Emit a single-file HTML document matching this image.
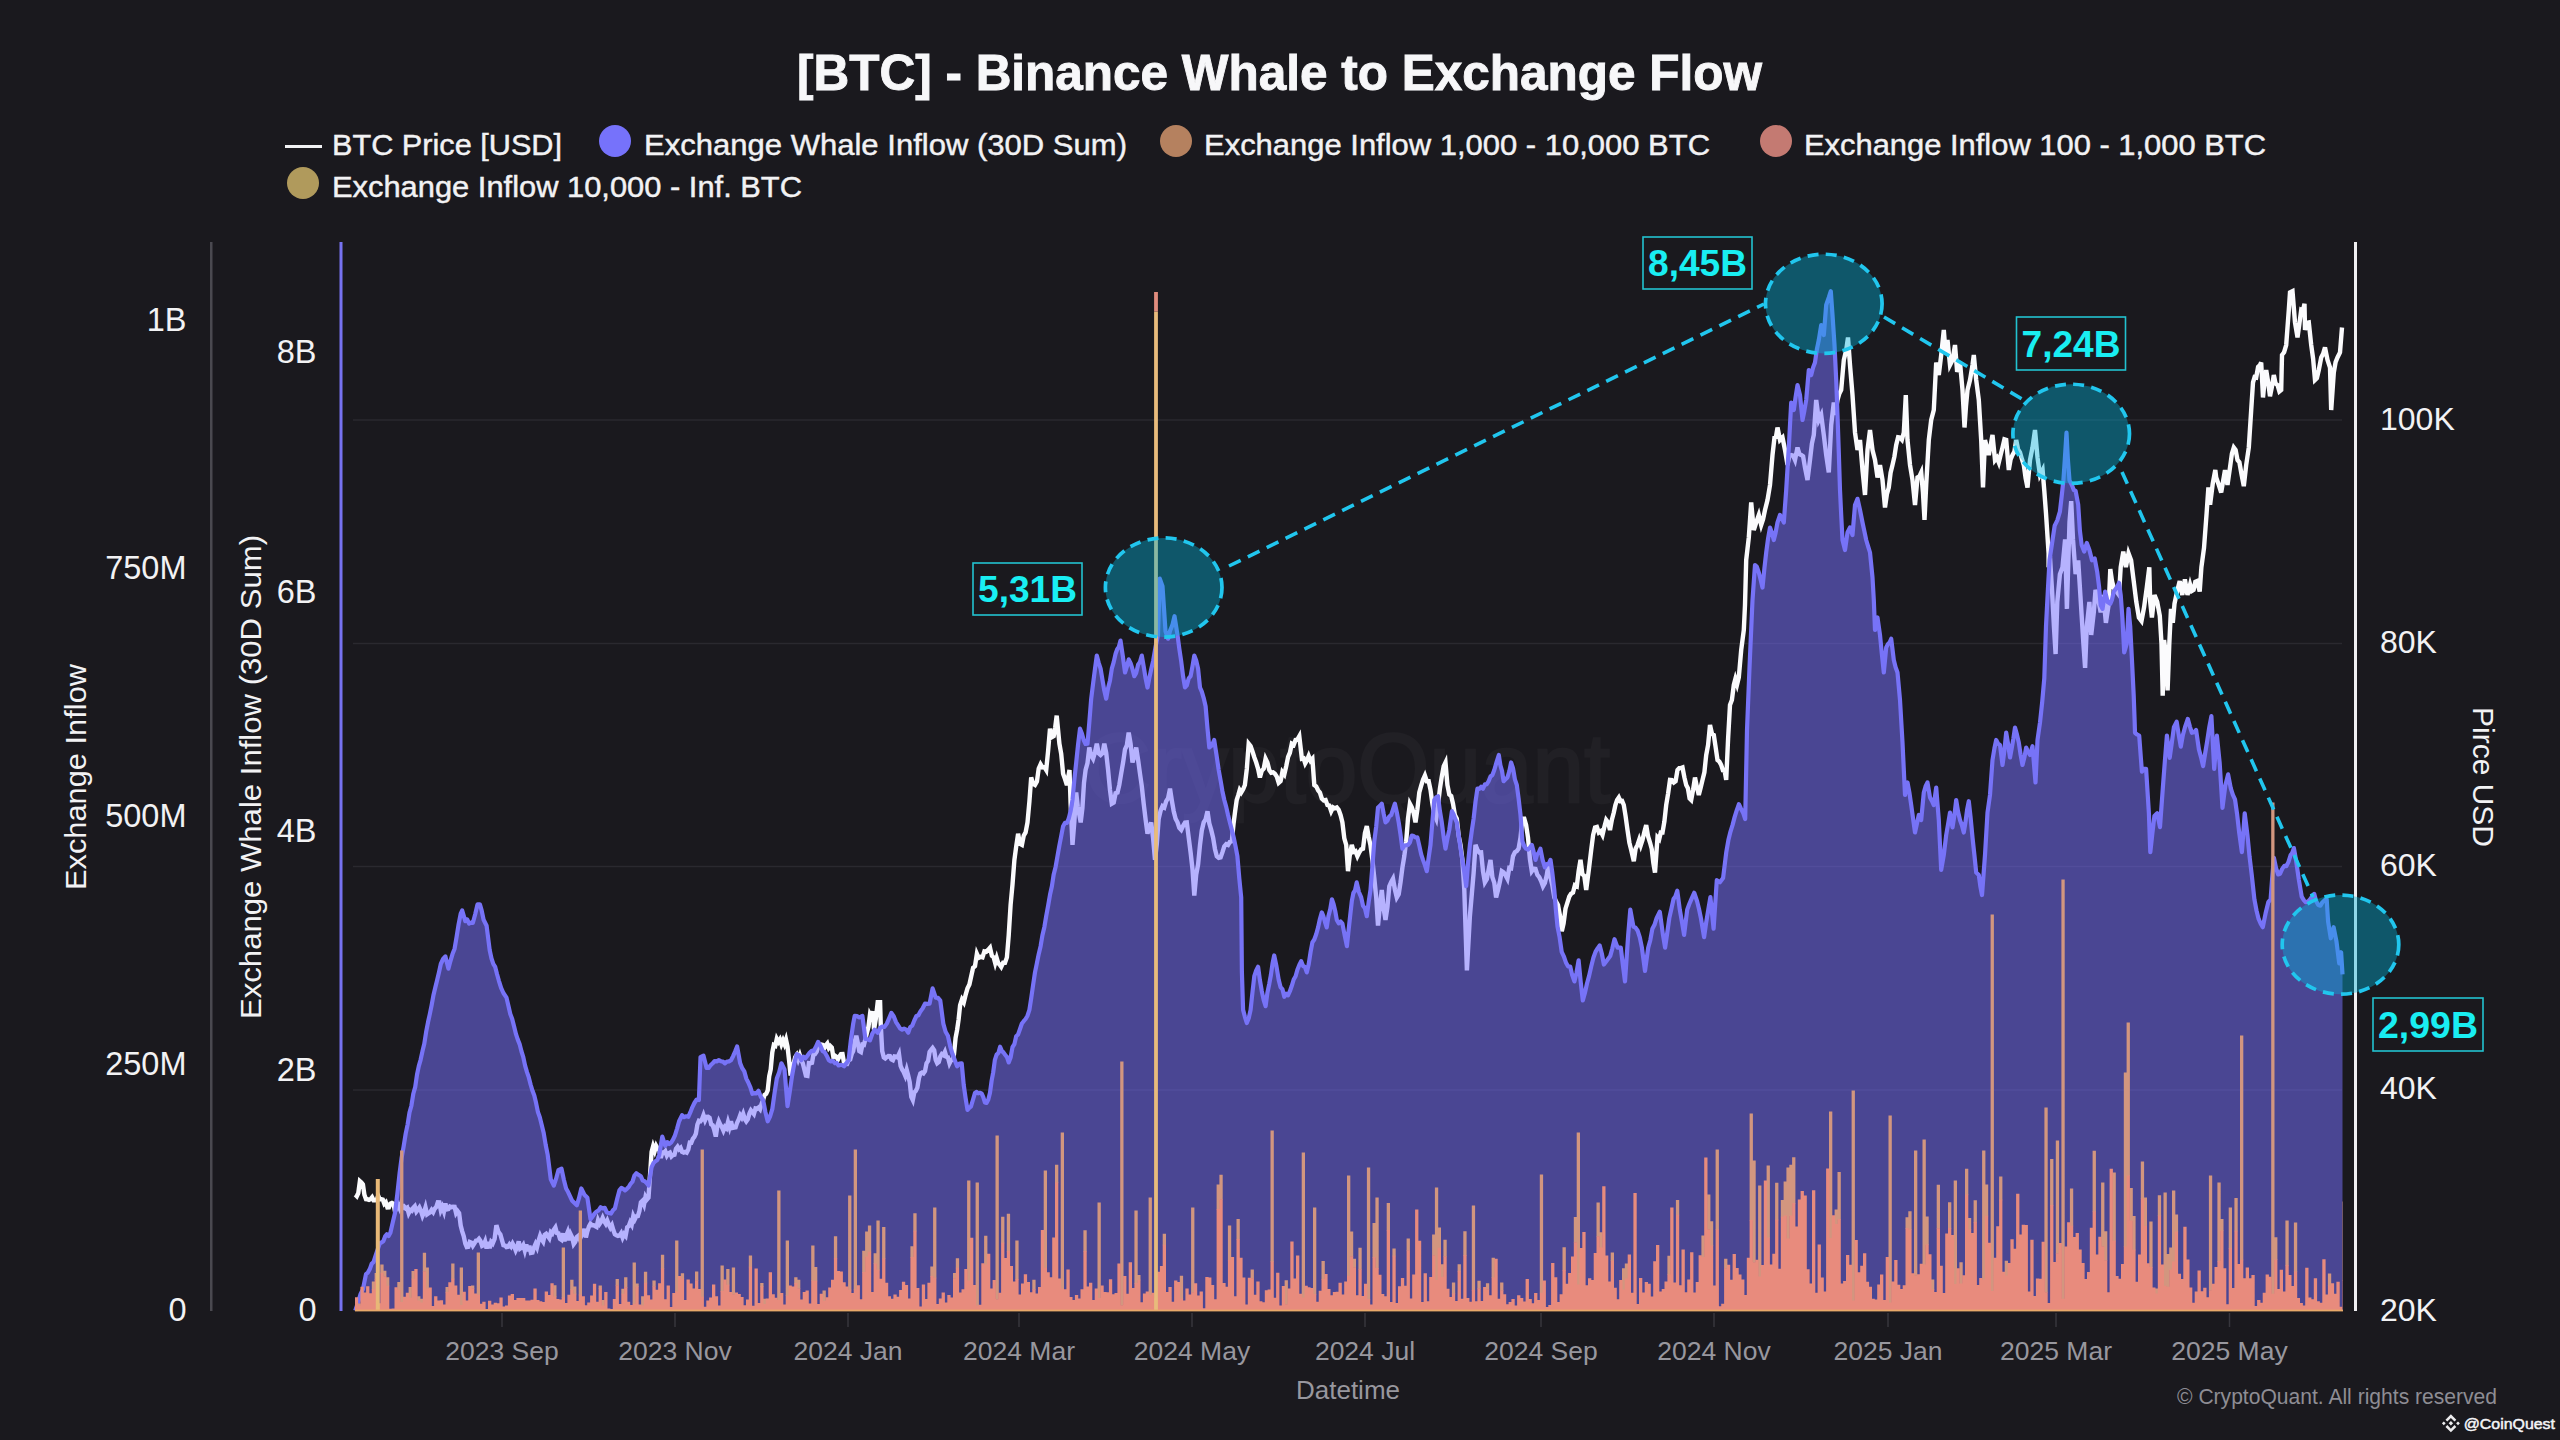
<!DOCTYPE html>
<html><head><meta charset="utf-8"><title>BTC Binance Whale to Exchange Flow</title>
<style>html,body{margin:0;padding:0;background:#1a191e;width:2560px;height:1440px;overflow:hidden}svg{display:block}</style></head>
<body>
<svg width="2560" height="1440" viewBox="0 0 2560 1440" font-family="Liberation Sans, sans-serif">
<rect width="2560" height="1440" fill="#1a191e"/>
<text x="1279.5" y="90" text-anchor="middle" font-size="49.5" font-weight="bold" fill="#f7f7f9" stroke="#f7f7f9" stroke-width="0.9" textLength="965" lengthAdjust="spacingAndGlyphs">[BTC] - Binance Whale to Exchange Flow</text>
<rect x="285" y="145" width="37" height="3" fill="#f2f2f4"/>
<text x="332" y="155" font-size="30" fill="#f2f2f4" stroke="#f2f2f4" stroke-width="0.45" textLength="230" lengthAdjust="spacingAndGlyphs">BTC Price [USD]</text>
<circle cx="615" cy="141" r="16" fill="#7672fb"/>
<text x="644" y="155" font-size="30" fill="#f2f2f4" stroke="#f2f2f4" stroke-width="0.45" textLength="483" lengthAdjust="spacingAndGlyphs">Exchange Whale Inflow (30D Sum)</text>
<circle cx="1176" cy="141" r="16" fill="#b5815f"/>
<text x="1204" y="155" font-size="30" fill="#f2f2f4" stroke="#f2f2f4" stroke-width="0.45" textLength="506" lengthAdjust="spacingAndGlyphs">Exchange Inflow 1,000 - 10,000 BTC</text>
<circle cx="1776" cy="141" r="16" fill="#c47a72"/>
<text x="1804" y="155" font-size="30" fill="#f2f2f4" stroke="#f2f2f4" stroke-width="0.45" textLength="462" lengthAdjust="spacingAndGlyphs">Exchange Inflow 100 - 1,000 BTC</text>
<circle cx="303" cy="183" r="16" fill="#b09a5c"/>
<text x="332" y="196.5" font-size="30" fill="#f2f2f4" stroke="#f2f2f4" stroke-width="0.45" textLength="470" lengthAdjust="spacingAndGlyphs">Exchange Inflow 10,000 - Inf. BTC</text>
<rect x="353" y="419.25" width="1989" height="1.5" fill="#2a292f"/>
<rect x="353" y="642.75" width="1989" height="1.5" fill="#2a292f"/>
<rect x="353" y="865.75" width="1989" height="1.5" fill="#2a292f"/>
<rect x="353" y="1089.25" width="1989" height="1.5" fill="#2a292f"/>
<g opacity="0.026"><text x="1347" y="802" text-anchor="middle" font-size="98" fill="#ffffff" stroke="#ffffff" stroke-width="2.5" textLength="526" lengthAdjust="spacingAndGlyphs">CryptoQuant</text></g>
<path d="M355.3,1194.7 L356.8,1196.2 L358.3,1193.0 L359.9,1181.1 L361.4,1182.4 L362.9,1184.4 L364.4,1194.7 L366.0,1199.2 L367.5,1199.3 L369.0,1199.8 L370.5,1199.2 L372.1,1197.3 L373.6,1200.3 L375.1,1200.3 L376.7,1200.0 L378.2,1195.8 L379.7,1199.2 L381.2,1199.3 L382.8,1199.7 L384.3,1203.8 L385.8,1202.3 L387.4,1207.5 L388.9,1207.4 L390.4,1203.6 L391.9,1203.0 L393.5,1203.8 L395.0,1211.5 L396.5,1208.1 L398.0,1204.8 L399.6,1208.4 L401.1,1203.7 L402.6,1208.0 L404.2,1206.6 L405.7,1208.4 L407.2,1207.6 L408.7,1213.2 L410.3,1210.0 L411.8,1210.8 L413.3,1207.9 L414.8,1206.3 L416.4,1211.5 L417.9,1209.6 L419.4,1207.5 L421.0,1211.1 L422.5,1215.8 L424.0,1212.4 L425.5,1207.4 L427.1,1214.3 L428.6,1213.2 L430.1,1212.4 L431.6,1209.9 L433.2,1212.1 L434.7,1208.7 L436.2,1207.1 L437.8,1202.3 L439.3,1202.4 L440.8,1210.2 L442.3,1206.9 L443.9,1211.5 L445.4,1203.5 L446.9,1209.4 L448.4,1209.0 L450.0,1206.5 L451.5,1207.2 L453.0,1206.8 L454.6,1206.9 L456.1,1213.2 L457.6,1211.0 L459.1,1213.0 L460.7,1225.5 L462.2,1231.3 L463.7,1236.0 L465.3,1243.5 L466.8,1247.0 L468.3,1246.8 L469.8,1242.0 L471.4,1242.7 L472.9,1245.8 L474.4,1243.5 L475.9,1240.7 L477.5,1240.5 L479.0,1238.8 L480.5,1241.0 L482.1,1245.9 L483.6,1245.1 L485.1,1241.5 L486.6,1248.6 L488.2,1242.0 L489.7,1248.2 L491.2,1241.9 L492.7,1243.5 L494.6,1238.9 L496.4,1225.2 L498.4,1231.8 L500.4,1234.4 L501.9,1239.8 L503.4,1245.1 L505.0,1245.5 L506.5,1247.2 L508.0,1246.9 L509.5,1244.4 L511.1,1246.6 L512.6,1243.5 L514.1,1246.3 L515.7,1250.4 L517.2,1247.1 L518.7,1241.4 L520.2,1248.6 L521.8,1247.5 L523.3,1245.1 L524.8,1250.4 L526.3,1244.5 L527.9,1251.3 L529.4,1245.7 L530.9,1253.0 L532.5,1252.7 L534.0,1247.4 L535.5,1243.9 L537.0,1247.3 L538.6,1240.5 L540.1,1235.8 L541.6,1239.2 L543.2,1241.7 L544.7,1234.9 L546.2,1233.8 L547.7,1235.9 L549.3,1238.2 L550.8,1232.1 L552.3,1233.5 L553.8,1229.8 L555.4,1227.4 L556.9,1233.0 L558.4,1233.4 L560.0,1238.9 L561.5,1239.9 L563.0,1233.3 L564.5,1241.2 L566.1,1235.9 L567.6,1232.2 L569.1,1240.2 L570.6,1234.2 L572.2,1237.5 L573.7,1244.1 L575.2,1242.0 L576.8,1237.0 L578.3,1235.8 L579.8,1239.3 L581.3,1235.9 L582.9,1233.6 L584.4,1229.0 L585.9,1237.4 L587.4,1231.3 L589.0,1226.3 L590.5,1223.6 L592.0,1225.2 L593.6,1225.2 L595.1,1226.0 L596.6,1226.9 L598.1,1220.2 L599.7,1223.7 L601.2,1221.4 L602.7,1217.8 L604.2,1221.3 L605.8,1223.9 L607.3,1220.6 L608.8,1224.5 L610.4,1227.7 L611.9,1225.2 L613.4,1230.4 L614.9,1234.2 L616.5,1235.3 L618.0,1235.9 L619.5,1235.6 L621.1,1233.2 L622.6,1237.5 L624.1,1234.1 L625.6,1235.9 L627.2,1227.3 L628.7,1226.2 L630.2,1222.1 L631.7,1224.7 L633.3,1216.0 L634.8,1219.3 L636.3,1216.2 L637.9,1216.0 L639.4,1211.1 L640.9,1202.3 L642.4,1200.8 L644.0,1204.6 L645.5,1196.8 L647.0,1199.5 L648.5,1197.7 L650.1,1174.0 L651.6,1151.9 L653.1,1146.3 L654.7,1150.9 L656.2,1146.0 L657.7,1148.8 L659.2,1149.0 L660.8,1158.0 L662.3,1152.4 L663.8,1152.8 L665.3,1151.2 L666.9,1155.7 L668.4,1153.4 L669.9,1152.6 L671.5,1156.4 L673.0,1155.0 L674.5,1154.7 L676.0,1148.8 L677.6,1146.7 L679.1,1149.3 L680.6,1147.9 L682.1,1151.8 L683.7,1152.6 L685.2,1151.9 L686.7,1152.6 L688.3,1149.4 L689.8,1142.6 L691.3,1142.7 L692.8,1138.9 L694.4,1136.9 L695.9,1133.6 L697.4,1124.5 L698.9,1120.8 L700.5,1121.3 L702.0,1119.3 L703.5,1115.2 L705.1,1120.1 L706.6,1116.8 L708.1,1116.7 L709.6,1117.8 L711.2,1124.4 L712.7,1125.3 L714.2,1129.9 L715.8,1136.6 L717.3,1126.1 L718.8,1121.3 L720.3,1124.6 L721.9,1127.1 L723.4,1130.5 L724.9,1126.8 L726.4,1128.3 L728.0,1122.1 L729.5,1127.2 L731.0,1121.3 L732.6,1128.0 L734.1,1127.7 L735.6,1127.4 L737.1,1122.7 L738.7,1119.4 L740.2,1115.2 L741.7,1117.6 L743.2,1113.8 L744.8,1119.0 L746.3,1121.3 L747.8,1119.3 L749.4,1113.6 L750.9,1110.4 L752.4,1112.2 L753.9,1114.1 L755.5,1108.5 L757.0,1108.9 L758.5,1107.6 L760.0,1109.3 L761.6,1103.6 L763.1,1100.0 L764.6,1094.8 L766.2,1093.8 L767.7,1090.5 L769.2,1076.3 L770.7,1069.4 L772.3,1052.4 L773.8,1045.0 L775.3,1045.8 L776.8,1038.9 L778.4,1041.9 L779.9,1039.5 L781.4,1044.3 L783.0,1040.4 L784.5,1044.1 L786.0,1039.6 L787.5,1046.5 L789.1,1060.5 L790.6,1075.5 L792.1,1068.5 L793.7,1063.2 L795.2,1057.2 L796.7,1055.0 L798.2,1059.6 L799.8,1055.2 L801.3,1060.2 L802.8,1063.2 L804.3,1069.2 L805.9,1075.5 L807.4,1075.8 L808.9,1063.1 L810.5,1063.3 L812.0,1062.8 L813.5,1054.1 L815.0,1054.1 L816.6,1051.8 L818.1,1046.9 L819.6,1045.0 L821.1,1044.6 L822.7,1045.0 L824.2,1048.3 L825.7,1045.4 L827.3,1043.5 L828.8,1048.0 L830.3,1046.1 L831.8,1047.6 L833.4,1057.2 L834.9,1055.7 L836.4,1056.7 L837.9,1059.5 L839.5,1056.4 L841.0,1054.1 L842.5,1054.0 L844.1,1063.3 L845.6,1063.9 L847.1,1064.0 L848.6,1060.2 L850.2,1059.4 L851.7,1054.1 L853.2,1051.1 L854.7,1042.0 L856.3,1035.8 L857.8,1043.0 L859.3,1051.1 L860.9,1052.0 L862.4,1044.7 L863.9,1045.0 L865.4,1039.1 L867.0,1032.5 L868.5,1026.6 L870.0,1014.4 L871.6,1017.4 L873.1,1011.4 L874.0,1029.7 L875.8,1019.0 L877.7,1002.2 L880.1,1002.2 L880.7,1023.6 L882.2,1051.1 L883.8,1057.4 L885.3,1058.5 L886.8,1057.2 L888.4,1055.9 L889.9,1056.0 L891.4,1059.4 L892.9,1060.2 L894.5,1056.3 L896.0,1056.5 L897.5,1057.4 L899.0,1054.1 L900.6,1066.0 L902.1,1069.4 L903.6,1071.8 L905.2,1075.6 L906.7,1069.9 L908.2,1075.5 L909.7,1082.2 L911.3,1096.8 L912.8,1100.0 L914.3,1092.3 L915.8,1091.0 L917.4,1087.7 L918.9,1078.3 L920.4,1073.4 L922.0,1072.5 L923.5,1073.4 L925.0,1071.2 L926.5,1063.3 L928.1,1061.0 L929.6,1051.9 L931.1,1049.8 L932.6,1048.0 L934.2,1050.4 L935.7,1059.9 L937.2,1063.3 L938.8,1062.0 L940.3,1056.6 L941.8,1054.1 L943.3,1055.1 L944.9,1051.8 L946.4,1056.8 L947.9,1057.2 L949.5,1063.2 L951.0,1060.2 L952.5,1059.7 L954.0,1054.1 L955.6,1037.9 L957.1,1029.9 L958.6,1019.6 L960.1,1005.3 L962.0,999.4 L963.8,1002.3 L965.6,994.9 L967.5,988.3 L969.4,984.4 L971.2,976.2 L973.1,967.7 L975.0,966.1 L976.9,953.7 L978.7,957.8 L980.6,956.9 L982.5,957.4 L984.4,951.4 L986.2,951.8 L988.1,949.9 L990.0,947.7 L991.9,955.9 L993.7,957.4 L995.2,963.1 L996.7,958.0 L998.2,963.1 L999.7,964.7 L1001.2,966.8 L1003.1,962.7 L1005.0,962.7 L1006.9,957.4 L1008.7,935.5 L1010.6,904.9 L1012.5,884.5 L1014.4,859.9 L1016.2,846.5 L1018.1,833.7 L1020.0,843.9 L1021.9,844.9 L1023.7,835.8 L1025.6,832.4 L1027.5,822.4 L1029.4,801.5 L1031.2,777.5 L1033.1,783.8 L1035.0,785.0 L1036.9,781.6 L1038.7,768.5 L1040.6,764.3 L1042.5,767.4 L1044.4,767.1 L1046.2,770.0 L1048.1,751.0 L1050.0,728.7 L1051.9,737.2 L1053.7,736.2 L1055.2,727.3 L1056.7,715.6 L1059.4,743.7 L1061.2,753.8 L1063.1,773.7 L1065.0,779.0 L1066.9,785.0 L1069.5,770.0 L1070.6,803.7 L1072.5,844.9 L1074.4,820.8 L1076.2,792.5 L1077.7,806.3 L1079.2,814.0 L1080.7,822.4 L1082.4,808.1 L1084.0,782.6 L1085.6,770.0 L1087.5,763.1 L1089.3,747.5 L1091.2,755.4 L1093.1,758.7 L1095.0,752.3 L1096.8,743.7 L1098.7,753.4 L1100.6,755.0 L1102.5,753.2 L1104.3,743.7 L1106.2,752.8 L1108.1,770.0 L1110.0,790.0 L1111.8,803.7 L1113.7,802.6 L1115.6,793.2 L1117.5,792.5 L1119.3,784.9 L1121.2,773.3 L1123.1,762.5 L1125.0,749.4 L1126.8,745.5 L1128.7,732.5 L1130.6,743.8 L1132.5,762.5 L1134.3,756.1 L1136.2,747.5 L1138.1,759.9 L1140.0,773.7 L1141.8,786.2 L1143.7,803.7 L1145.6,819.4 L1147.5,833.7 L1149.3,827.7 L1151.2,822.4 L1153.1,838.2 L1155.0,859.9 L1156.8,844.0 L1158.7,818.7 L1160.6,810.7 L1162.5,806.2 L1164.3,807.5 L1166.2,801.1 L1168.1,798.3 L1170.0,788.7 L1171.8,800.3 L1173.7,811.2 L1175.6,818.7 L1177.5,822.3 L1179.3,827.9 L1181.2,829.9 L1183.1,825.8 L1185.0,822.6 L1186.8,822.4 L1188.7,837.5 L1190.6,852.4 L1192.5,869.3 L1194.3,895.6 L1196.2,874.5 L1198.1,864.4 L1200.0,844.9 L1201.8,830.4 L1203.7,822.4 L1205.6,819.3 L1207.5,811.2 L1209.3,823.4 L1211.2,829.9 L1213.1,837.7 L1215.0,849.2 L1216.8,856.2 L1218.7,857.8 L1220.6,857.3 L1222.4,852.4 L1224.3,846.3 L1226.2,844.1 L1228.1,844.9 L1229.9,841.9 L1231.8,841.2 L1233.7,822.4 L1235.2,810.8 L1236.7,800.0 L1238.2,795.4 L1239.7,790.1 L1241.2,792.5 L1243.1,789.3 L1244.9,785.0 L1246.8,769.0 L1248.7,743.7 L1250.6,746.1 L1252.4,751.2 L1254.3,757.2 L1256.2,762.5 L1258.1,768.8 L1259.9,777.5 L1261.8,770.6 L1263.7,768.7 L1265.6,758.7 L1267.4,762.4 L1269.3,770.0 L1271.2,772.7 L1273.1,772.3 L1274.9,773.7 L1276.8,776.6 L1278.7,782.9 L1280.6,781.2 L1282.4,772.0 L1284.3,774.5 L1286.2,766.2 L1288.1,756.8 L1289.9,752.7 L1291.8,743.7 L1293.7,744.8 L1295.6,740.0 L1297.4,739.6 L1299.3,736.2 L1301.9,758.7 L1303.6,758.3 L1305.2,763.4 L1306.8,760.6 L1308.7,755.9 L1310.6,760.7 L1312.4,758.7 L1314.3,785.0 L1316.2,786.4 L1318.1,790.3 L1319.9,792.5 L1321.8,798.5 L1323.7,800.4 L1325.6,800.0 L1327.4,805.0 L1329.3,805.5 L1331.2,811.2 L1333.1,807.3 L1334.9,808.3 L1336.8,807.5 L1338.7,809.8 L1340.6,815.2 L1342.4,822.4 L1344.3,838.3 L1346.2,844.9 L1348.0,871.2 L1349.9,854.2 L1351.8,844.9 L1353.7,851.9 L1355.5,851.2 L1357.4,856.2 L1359.3,852.3 L1361.2,849.4 L1363.0,848.7 L1364.9,833.2 L1366.8,826.2 L1368.7,837.0 L1370.5,845.4 L1372.4,859.9 L1374.3,878.1 L1376.2,897.4 L1378.0,925.6 L1379.9,905.7 L1381.8,889.9 L1383.7,908.9 L1385.5,919.9 L1387.4,907.3 L1389.3,886.2 L1391.2,881.9 L1393.0,878.7 L1394.9,889.5 L1396.8,897.4 L1398.7,894.2 L1400.5,882.4 L1402.4,867.6 L1404.3,856.2 L1406.2,841.2 L1408.0,818.4 L1409.9,803.7 L1411.8,807.3 L1413.7,813.1 L1415.5,822.4 L1417.4,809.2 L1419.3,792.5 L1421.2,785.6 L1423.0,779.8 L1424.9,775.6 L1426.8,781.3 L1428.7,781.2 L1430.5,789.8 L1432.4,803.7 L1434.3,814.3 L1436.2,818.7 L1438.0,805.0 L1439.9,788.7 L1441.8,776.5 L1443.7,766.2 L1445.5,762.5 L1447.4,785.0 L1449.3,794.4 L1451.2,795.9 L1453.0,803.7 L1454.9,815.0 L1456.8,818.7 L1458.7,836.1 L1460.5,844.9 L1462.4,859.9 L1464.3,889.9 L1466.9,970.5 L1468.4,943.4 L1469.9,916.2 L1471.8,894.3 L1473.6,873.2 L1475.5,844.9 L1477.4,849.9 L1479.3,852.5 L1481.1,852.4 L1483.0,871.1 L1484.9,882.4 L1486.8,879.3 L1488.6,870.0 L1490.5,859.9 L1492.4,877.2 L1494.3,882.9 L1496.1,897.4 L1498.0,889.9 L1499.9,881.6 L1501.8,871.2 L1503.6,872.4 L1505.5,875.1 L1507.4,878.7 L1509.3,867.9 L1511.1,868.3 L1513.0,856.2 L1514.9,852.2 L1516.8,851.0 L1518.6,848.7 L1520.5,837.6 L1522.4,818.7 L1524.3,818.7 L1526.1,824.9 L1528.0,837.4 L1529.9,858.9 L1531.8,871.2 L1533.6,868.7 L1535.5,869.0 L1537.4,874.9 L1539.3,877.2 L1541.1,881.0 L1543.0,886.2 L1544.9,882.9 L1546.8,875.0 L1548.6,863.7 L1550.5,877.6 L1552.4,885.6 L1554.3,897.4 L1556.1,901.6 L1558.0,904.9 L1559.9,915.4 L1561.8,931.2 L1563.6,923.3 L1565.5,908.7 L1567.4,902.6 L1569.3,896.5 L1571.1,893.7 L1573.0,892.6 L1574.9,885.2 L1576.8,886.2 L1578.6,871.2 L1580.5,859.9 L1582.4,874.2 L1584.3,875.9 L1586.2,890.0 L1588.8,870.0 L1591.2,850.0 L1593.1,835.2 L1595.0,827.5 L1596.9,827.0 L1598.8,832.5 L1600.6,831.3 L1602.5,835.0 L1604.4,826.7 L1606.2,820.0 L1608.1,822.5 L1610.0,830.0 L1611.9,819.7 L1613.8,812.5 L1615.4,805.0 L1617.1,799.9 L1618.8,797.5 L1620.4,801.1 L1622.1,800.9 L1623.8,805.0 L1625.6,816.2 L1627.5,830.0 L1629.4,842.7 L1631.2,850.0 L1633.8,861.2 L1635.6,848.7 L1637.5,845.0 L1639.2,839.8 L1640.8,845.2 L1642.5,840.0 L1644.4,831.8 L1646.2,825.0 L1648.1,836.5 L1650.0,842.5 L1651.7,848.8 L1653.3,862.7 L1655.0,872.5 L1657.5,837.5 L1659.2,839.3 L1660.8,832.5 L1662.5,832.5 L1664.4,821.4 L1666.2,805.0 L1668.1,793.6 L1670.0,780.0 L1671.9,780.2 L1673.8,782.5 L1675.6,781.2 L1677.5,770.0 L1679.2,768.1 L1680.8,768.1 L1682.5,767.5 L1684.4,777.4 L1686.2,785.0 L1687.9,788.2 L1689.6,798.4 L1691.2,800.0 L1693.1,789.7 L1695.0,777.5 L1696.9,787.1 L1698.8,795.0 L1700.6,787.9 L1702.5,780.0 L1704.4,772.3 L1706.2,755.0 L1708.1,744.9 L1710.0,725.0 L1711.9,733.4 L1713.8,735.0 L1715.6,747.0 L1717.5,760.0 L1719.4,761.6 L1721.2,765.0 L1722.9,770.2 L1724.6,770.5 L1726.2,780.0 L1728.1,738.6 L1730.0,705.0 L1731.9,700.0 L1733.8,685.0 L1735.4,678.8 L1737.1,684.4 L1738.8,677.5 L1741.2,650.0 L1743.8,630.0 L1745.0,605.0 L1746.2,560.0 L1748.8,537.5 L1751.2,502.5 L1753.8,530.0 L1756.2,522.5 L1758.8,515.0 L1761.2,525.0 L1763.1,519.3 L1765.0,510.0 L1767.5,500.0 L1770.0,485.0 L1772.5,455.0 L1774.5,437.5 L1776.0,436.7 L1777.5,427.5 L1780.0,440.0 L1782.5,437.5 L1785.0,450.0 L1787.5,465.0 L1789.4,455.8 L1791.2,455.0 L1793.1,455.6 L1795.0,460.0 L1797.5,447.5 L1799.4,454.2 L1801.2,455.0 L1803.1,456.3 L1805.0,467.5 L1807.5,480.0 L1810.0,460.0 L1811.9,443.6 L1813.8,435.0 L1816.2,400.0 L1818.8,420.0 L1821.2,415.0 L1823.8,435.0 L1826.2,455.0 L1828.8,472.5 L1831.2,425.0 L1833.8,402.5 L1835.0,415.0 L1837.5,400.0 L1839.4,393.5 L1841.2,390.0 L1843.8,360.0 L1846.2,350.0 L1848.0,337.5 L1850.0,365.0 L1852.5,395.0 L1855.0,432.5 L1857.5,450.0 L1860.0,440.0 L1862.5,470.0 L1865.0,495.0 L1867.5,450.0 L1870.0,430.0 L1872.5,450.0 L1875.0,460.0 L1877.5,477.5 L1880.0,465.0 L1882.5,480.0 L1885.0,507.5 L1886.9,494.2 L1888.8,487.5 L1890.6,472.7 L1892.5,465.0 L1894.4,456.7 L1896.2,445.0 L1898.1,437.2 L1900.0,437.5 L1901.9,439.7 L1903.8,432.5 L1905.8,395.0 L1907.5,440.0 L1910.0,465.0 L1912.5,480.0 L1915.0,505.0 L1917.5,477.5 L1919.4,476.5 L1921.2,472.5 L1922.9,491.7 L1924.5,520.0 L1926.2,485.0 L1928.8,440.0 L1931.2,420.0 L1933.8,410.0 L1936.2,362.5 L1938.8,375.0 L1941.2,355.0 L1943.8,330.0 L1945.5,352.5 L1947.5,340.0 L1950.0,365.0 L1952.5,360.0 L1955.0,345.0 L1957.0,370.0 L1958.5,370.2 L1960.0,362.5 L1962.5,390.0 L1964.5,427.5 L1966.0,406.2 L1967.5,390.0 L1970.0,380.0 L1972.5,365.0 L1973.8,355.0 L1976.2,380.0 L1978.8,400.0 L1981.2,440.0 L1983.0,487.5 L1985.0,440.0 L1986.9,447.3 L1988.8,455.0 L1990.6,445.6 L1992.5,435.0 L1995.0,460.0 L1996.9,457.6 L1998.8,462.5 L2000.6,455.0 L2002.5,447.5 L2004.4,439.4 L2006.2,440.0 L2008.8,470.0 L2010.6,459.5 L2012.5,455.0 L2014.4,451.7 L2016.2,440.0 L2018.1,449.5 L2020.0,452.5 L2021.9,459.0 L2023.8,465.0 L2025.6,478.1 L2027.5,487.5 L2030.0,460.0 L2032.5,447.5 L2035.0,430.0 L2037.5,457.5 L2040.0,475.0 L2042.6,470.0 L2044.3,490.8 L2046.0,513.4 L2048.6,553.3 L2048.6,567.2 L2050.4,563.8 L2052.1,591.5 L2053.9,626.2 L2055.6,654.0 L2057.3,601.9 L2059.9,574.2 L2062.5,567.2 L2065.1,539.4 L2066.9,608.9 L2069.5,522.1 L2071.2,501.2 L2073.0,539.4 L2075.6,574.2 L2078.2,560.3 L2080.8,601.9 L2083.4,643.6 L2085.1,667.9 L2086.8,626.2 L2089.4,601.9 L2091.2,634.9 L2093.8,612.4 L2095.5,589.8 L2098.1,598.5 L2100.7,612.4 L2103.3,595.0 L2105.9,622.8 L2108.5,605.4 L2109.4,589.8 L2110.3,569.0 L2112.0,581.1 L2113.8,588.1 L2116.4,591.5 L2119.0,595.0 L2120.7,567.2 L2123.3,551.6 L2125.9,567.2 L2128.5,553.3 L2131.1,560.3 L2133.7,581.1 L2136.3,601.9 L2138.9,617.6 L2141.5,621.0 L2144.1,607.2 L2146.7,588.1 L2149.3,567.2 L2150.2,601.9 L2151.9,617.6 L2154.5,595.0 L2157.2,601.9 L2159.8,615.8 L2161.5,643.6 L2162.7,695.7 L2164.1,640.1 L2165.8,654.0 L2167.6,690.5 L2169.3,643.6 L2171.0,608.9 L2172.8,622.8 L2174.5,603.7 L2177.1,591.5 L2179.7,581.1 L2182.3,595.0 L2184.9,579.4 L2187.5,595.0 L2190.1,584.6 L2191.9,590.9 L2193.6,589.8 L2195.3,581.9 L2197.1,581.1 L2199.7,591.5 L2201.4,567.2 L2204.0,548.1 L2206.6,513.4 L2208.4,487.4 L2210.1,504.7 L2212.7,483.9 L2215.3,470.0 L2216.2,477.5 L2218.8,485.0 L2221.2,492.5 L2223.1,481.2 L2225.0,470.0 L2227.5,485.0 L2230.0,467.5 L2231.9,453.8 L2233.8,447.5 L2235.6,449.9 L2237.5,460.0 L2239.4,462.3 L2241.2,472.5 L2243.8,486.2 L2246.2,465.0 L2248.8,447.5 L2251.2,410.0 L2253.0,382.5 L2254.6,377.1 L2256.2,377.5 L2258.1,366.8 L2260.0,365.0 L2261.2,362.5 L2263.0,397.5 L2264.6,380.9 L2266.2,370.0 L2268.1,381.9 L2270.0,396.2 L2271.9,386.9 L2273.8,375.0 L2275.6,383.6 L2277.5,385.0 L2279.4,391.5 L2281.2,390.0 L2282.0,355.0 L2284.1,352.2 L2286.2,345.0 L2288.8,310.0 L2290.0,292.5 L2292.5,291.2 L2295.0,322.5 L2297.5,337.5 L2299.4,323.8 L2301.2,310.0 L2302.9,311.0 L2304.5,303.8 L2305.0,330.0 L2306.9,322.9 L2308.8,322.5 L2311.2,345.0 L2313.1,358.6 L2315.0,380.0 L2316.9,378.2 L2318.8,370.0 L2321.2,357.5 L2323.1,353.8 L2325.0,347.5 L2327.5,360.0 L2330.0,367.5 L2331.2,410.0 L2333.8,372.5 L2335.6,362.1 L2337.5,357.5 L2340.0,352.5 L2342.0,327.5" fill="none" stroke="#fbfbfd" stroke-width="4.4" stroke-linejoin="miter" stroke-miterlimit="4"/>
<path d="M355.3,1310.7 L358.3,1301.6 L360.6,1293.9 L362.9,1289.4 L366.0,1274.1 L367.9,1272.6 L369.8,1269.1 L371.7,1263.8 L373.6,1261.9 L375.6,1255.7 L377.7,1249.4 L379.7,1243.5 L381.5,1242.4 L383.3,1241.2 L385.1,1236.4 L386.8,1234.3 L388.6,1236.1 L390.4,1232.8 L392.7,1222.6 L395.0,1213.0 L397.3,1194.3 L399.6,1173.3 L401.6,1157.8 L403.6,1146.6 L405.7,1133.6 L407.6,1124.6 L409.5,1112.5 L411.4,1105.7 L413.3,1093.8 L415.2,1087.1 L417.0,1074.7 L418.8,1066.1 L420.6,1059.8 L422.5,1051.1 L424.3,1043.8 L426.1,1032.2 L428.0,1022.3 L429.8,1014.1 L431.6,1005.3 L433.5,994.9 L435.3,987.5 L437.1,980.2 L439.0,972.2 L440.8,964.0 L443.1,959.0 L445.4,956.4 L448.4,968.6 L450.5,960.8 L452.5,954.1 L454.6,948.7 L456.6,936.8 L458.6,924.4 L460.7,913.6 L462.2,910.5 L465.3,921.2 L467.2,919.5 L469.1,923.5 L471.0,922.6 L472.9,922.8 L475.2,914.2 L477.5,904.4 L479.9,904.4 L481.7,910.7 L483.6,919.7 L486.6,925.8 L489.7,950.3 L491.5,958.5 L493.4,964.1 L495.2,966.9 L497.0,974.0 L498.9,980.8 L501.1,987.9 L503.4,993.0 L506.5,997.6 L508.4,1005.8 L510.3,1014.0 L512.2,1019.0 L514.1,1026.6 L516.0,1034.2 L517.8,1039.6 L519.6,1044.1 L521.5,1051.5 L523.3,1057.2 L525.1,1065.6 L527.0,1072.1 L528.8,1077.4 L530.6,1084.5 L532.5,1090.8 L534.3,1095.5 L536.1,1103.1 L538.0,1112.3 L539.8,1117.3 L541.6,1124.4 L543.7,1133.1 L545.7,1145.0 L547.7,1154.9 L550.8,1179.4 L553.8,1185.5 L556.1,1178.7 L558.4,1170.2 L561.5,1168.7 L563.8,1179.4 L566.1,1188.5 L568.1,1192.1 L570.1,1196.4 L572.2,1200.8 L574.5,1203.1 L576.8,1205.3 L579.0,1198.2 L581.3,1188.5 L584.4,1194.7 L587.4,1197.7 L590.5,1219.1 L592.5,1216.6 L594.6,1213.5 L596.6,1211.5 L598.6,1210.4 L600.7,1207.3 L602.7,1208.4 L604.8,1207.9 L606.8,1212.4 L608.8,1213.0 L610.9,1213.6 L612.9,1210.3 L614.9,1208.4 L617.2,1198.8 L619.5,1190.1 L621.4,1188.0 L623.2,1188.9 L625.0,1190.4 L626.9,1188.8 L628.7,1187.0 L630.6,1183.8 L632.5,1181.7 L634.4,1175.5 L636.3,1173.3 L638.6,1174.9 L640.9,1176.3 L642.8,1180.6 L644.7,1181.2 L646.6,1183.0 L648.5,1185.5 L651.6,1167.2 L653.5,1163.1 L655.4,1161.3 L657.3,1160.0 L659.2,1154.9 L662.3,1136.6 L665.3,1145.8 L667.3,1142.1 L669.2,1144.0 L671.1,1142.6 L673.0,1139.7 L675.0,1135.3 L677.1,1128.5 L679.1,1121.3 L682.1,1115.2 L684.2,1117.1 L686.2,1116.3 L688.3,1116.8 L690.3,1112.4 L692.3,1107.3 L694.4,1103.0 L696.7,1099.5 L698.9,1100.0 L700.5,1057.2 L703.5,1055.7 L706.6,1067.9 L708.6,1068.0 L710.7,1065.1 L712.7,1063.3 L714.7,1061.0 L716.8,1061.3 L718.8,1060.2 L720.8,1061.2 L722.9,1061.6 L724.9,1063.3 L727.0,1061.6 L729.0,1061.4 L731.0,1060.2 L733.1,1056.2 L735.1,1051.6 L737.1,1046.5 L740.2,1063.3 L742.2,1068.2 L744.3,1071.4 L746.3,1078.6 L748.3,1082.5 L750.4,1087.3 L752.4,1093.8 L754.4,1093.2 L756.5,1093.4 L758.5,1090.8 L760.8,1096.7 L763.1,1100.0 L765.4,1112.0 L767.7,1121.3 L770.0,1116.6 L772.3,1109.1 L774.6,1092.8 L776.8,1078.6 L779.1,1072.4 L781.4,1063.3 L784.5,1069.4 L787.5,1106.1 L789.8,1091.5 L792.1,1075.5 L794.4,1063.0 L796.7,1054.1 L799.0,1055.1 L801.3,1060.2 L803.3,1056.6 L805.4,1058.3 L807.4,1055.7 L809.4,1053.0 L811.5,1050.9 L813.5,1051.1 L815.8,1047.0 L818.1,1041.9 L820.4,1045.8 L822.7,1051.1 L824.7,1052.2 L826.7,1055.7 L828.8,1060.2 L830.8,1061.4 L832.9,1060.8 L834.9,1063.3 L836.7,1062.9 L838.6,1065.4 L840.4,1064.9 L842.2,1065.0 L844.1,1066.3 L846.3,1063.2 L848.6,1060.2 L850.9,1039.8 L853.2,1023.6 L854.7,1015.9 L857.0,1016.2 L859.3,1017.5 L862.4,1015.9 L865.4,1038.9 L867.7,1039.3 L870.0,1040.4 L872.3,1033.7 L874.6,1029.7 L877.7,1032.7 L880.0,1028.0 L882.2,1026.6 L884.5,1026.9 L886.8,1023.6 L889.1,1018.3 L891.4,1012.9 L893.7,1016.2 L896.0,1022.1 L898.0,1025.1 L900.1,1028.5 L902.1,1029.7 L904.1,1028.6 L906.2,1029.6 L908.2,1032.7 L910.2,1027.1 L912.3,1025.6 L914.3,1020.5 L916.4,1016.0 L918.4,1015.3 L920.4,1011.4 L922.7,1008.3 L925.0,1003.7 L927.3,1003.9 L929.6,1003.7 L932.6,988.4 L935.7,997.6 L938.0,997.9 L940.3,1000.7 L943.3,1023.6 L945.6,1031.8 L947.9,1035.8 L950.2,1046.3 L952.5,1054.1 L954.8,1060.3 L957.1,1066.3 L959.4,1063.6 L961.7,1063.3 L963.7,1084.9 L965.6,1098.1 L967.5,1110.0 L969.2,1107.9 L970.9,1106.6 L972.9,1100.0 L975.0,1092.8 L976.6,1092.0 L978.2,1093.3 L979.9,1092.8 L981.6,1093.4 L983.2,1096.9 L984.9,1102.4 L986.6,1102.9 L988.3,1099.5 L990.0,1092.8 L991.6,1080.9 L993.2,1072.4 L994.9,1059.8 L996.6,1054.6 L998.4,1053.0 L1000.1,1046.7 L1001.8,1050.9 L1003.6,1052.6 L1005.3,1055.0 L1007.0,1057.1 L1008.7,1062.4 L1010.6,1057.5 L1012.5,1047.2 L1014.4,1044.1 L1016.2,1036.2 L1018.1,1034.4 L1020.0,1029.0 L1021.9,1023.5 L1023.7,1021.2 L1025.6,1019.0 L1027.5,1015.7 L1029.4,1009.9 L1031.2,998.3 L1033.1,985.0 L1035.0,972.4 L1036.9,963.1 L1038.7,954.2 L1040.6,946.2 L1042.5,934.9 L1044.4,926.9 L1046.2,916.2 L1048.1,905.9 L1050.0,894.8 L1051.9,886.2 L1053.7,874.4 L1055.6,866.9 L1057.5,856.2 L1059.4,845.3 L1061.2,836.2 L1063.1,826.2 L1065.0,822.9 L1066.9,822.8 L1068.7,818.7 L1070.6,811.1 L1072.5,800.0 L1074.4,779.1 L1076.2,762.5 L1078.1,744.3 L1080.0,728.7 L1081.9,733.6 L1083.7,740.0 L1085.6,744.0 L1087.5,743.7 L1089.3,722.5 L1091.2,698.7 L1093.1,683.6 L1095.0,668.7 L1096.8,655.6 L1098.7,662.9 L1100.6,668.7 L1102.5,680.2 L1104.3,690.6 L1106.2,698.7 L1108.1,688.0 L1110.0,680.4 L1111.8,668.7 L1113.7,662.1 L1115.6,653.7 L1117.2,649.3 L1118.8,647.1 L1120.5,640.6 L1122.7,655.4 L1125.0,672.5 L1126.8,666.9 L1128.7,659.4 L1130.6,663.2 L1132.5,669.2 L1134.3,676.2 L1136.2,672.9 L1138.1,664.7 L1140.0,661.9 L1141.8,655.6 L1143.7,666.7 L1145.6,678.4 L1147.5,687.5 L1149.3,678.1 L1151.2,669.3 L1153.1,661.2 L1155.7,646.2 L1158.0,635.0 L1159.8,578.7 L1162.5,586.2 L1165.5,631.2 L1168.1,638.7 L1170.2,630.3 L1172.3,625.4 L1174.5,616.2 L1177.5,635.0 L1179.3,648.6 L1181.2,661.2 L1183.1,676.4 L1185.0,687.5 L1186.8,685.4 L1188.7,678.4 L1190.6,676.2 L1192.5,666.1 L1194.3,655.6 L1196.2,660.4 L1198.1,668.7 L1200.0,687.5 L1201.8,691.7 L1203.7,698.1 L1205.6,706.2 L1207.5,728.5 L1209.3,747.5 L1211.0,746.2 L1212.6,743.9 L1214.2,740.0 L1216.4,754.3 L1218.7,770.0 L1220.6,780.5 L1222.4,791.2 L1224.3,800.0 L1226.2,806.9 L1228.1,815.3 L1229.9,822.4 L1231.8,829.7 L1233.7,837.5 L1235.6,846.7 L1237.4,856.2 L1239.3,878.5 L1241.2,897.4 L1241.9,972.4 L1243.1,1009.9 L1244.9,1016.8 L1246.8,1023.0 L1248.7,1018.3 L1250.6,1009.9 L1252.4,992.9 L1254.3,976.2 L1256.2,970.5 L1258.1,966.8 L1259.9,980.2 L1261.8,991.2 L1263.7,1000.1 L1265.6,1006.2 L1267.4,992.8 L1269.3,983.7 L1270.9,975.0 L1272.6,963.1 L1274.2,955.5 L1276.4,966.0 L1278.7,979.9 L1280.6,987.2 L1282.4,989.1 L1284.3,996.8 L1286.2,993.8 L1288.1,995.2 L1289.9,991.2 L1291.8,985.8 L1293.7,979.5 L1295.6,976.2 L1297.4,969.7 L1299.3,965.0 L1301.2,961.2 L1303.1,966.0 L1304.9,966.9 L1306.8,972.4 L1308.7,964.2 L1310.6,951.9 L1312.4,942.4 L1314.3,939.5 L1316.2,934.2 L1318.1,927.4 L1319.9,919.0 L1321.8,912.4 L1323.4,916.3 L1325.1,922.3 L1326.7,927.4 L1328.4,916.3 L1330.2,909.4 L1331.9,899.3 L1333.6,904.2 L1335.2,910.9 L1336.8,919.9 L1338.7,923.3 L1340.6,921.5 L1342.4,923.7 L1344.7,935.4 L1346.9,946.2 L1348.5,931.0 L1350.2,915.4 L1351.8,901.2 L1353.4,893.0 L1355.0,890.5 L1356.7,882.4 L1358.9,892.0 L1361.2,897.4 L1363.0,905.7 L1364.9,908.2 L1366.8,916.2 L1368.7,901.8 L1370.5,889.9 L1372.4,866.1 L1374.3,841.2 L1376.2,826.4 L1378.0,807.5 L1379.9,805.8 L1381.8,803.7 L1383.7,813.9 L1385.5,822.4 L1387.4,820.7 L1389.3,816.4 L1391.2,815.0 L1393.0,809.5 L1394.9,803.7 L1396.8,812.2 L1398.7,822.4 L1400.5,834.5 L1402.4,848.7 L1404.3,845.6 L1406.2,845.2 L1408.0,844.9 L1409.9,842.4 L1411.8,835.6 L1413.7,836.0 L1415.5,837.5 L1417.4,837.4 L1419.3,845.6 L1421.2,854.4 L1423.0,859.9 L1424.9,865.1 L1426.8,871.2 L1428.7,857.2 L1430.5,844.9 L1432.4,821.7 L1434.3,800.0 L1436.2,797.3 L1438.0,796.2 L1439.9,810.9 L1441.8,822.4 L1443.7,837.3 L1445.5,848.7 L1447.4,838.5 L1449.3,829.9 L1451.9,811.2 L1453.5,814.2 L1455.2,818.9 L1456.8,822.4 L1458.7,835.3 L1460.5,847.9 L1462.4,859.9 L1464.3,871.9 L1466.2,886.2 L1468.0,863.5 L1469.9,844.9 L1471.8,830.7 L1473.6,818.7 L1475.5,801.8 L1477.4,788.7 L1479.3,788.9 L1481.1,786.8 L1483.0,788.7 L1484.9,784.3 L1486.8,784.3 L1488.6,781.2 L1490.5,776.5 L1492.4,775.0 L1494.3,770.0 L1496.5,762.4 L1498.8,755.0 L1500.4,765.3 L1502.0,770.9 L1503.6,781.2 L1505.5,779.3 L1507.4,777.5 L1509.3,771.3 L1511.1,762.5 L1513.0,768.1 L1514.9,779.4 L1516.8,785.0 L1518.6,798.5 L1520.5,815.0 L1522.4,841.2 L1524.3,846.2 L1526.1,848.7 L1528.0,849.6 L1529.9,847.6 L1531.8,844.9 L1533.6,851.6 L1535.5,859.9 L1537.1,854.5 L1538.8,852.5 L1540.4,848.7 L1542.6,859.9 L1544.9,867.4 L1546.8,864.0 L1548.6,864.2 L1550.5,859.9 L1552.4,873.4 L1554.3,889.9 L1555.9,910.1 L1557.5,926.6 L1559.6,937.2 L1561.7,951.9 L1563.8,956.3 L1565.9,962.4 L1568.0,966.3 L1570.2,966.6 L1572.3,975.4 L1574.4,981.4 L1576.5,972.7 L1578.6,960.3 L1580.7,981.9 L1582.8,1000.4 L1584.9,993.0 L1587.0,983.5 L1589.1,975.9 L1591.2,966.6 L1593.4,957.8 L1595.5,951.9 L1597.6,948.4 L1599.7,945.5 L1601.8,953.5 L1603.9,964.5 L1607.1,960.3 L1610.2,956.1 L1612.3,948.6 L1614.5,939.2 L1617.6,947.7 L1620.8,947.7 L1622.9,965.3 L1625.0,981.4 L1628.2,935.0 L1630.3,909.7 L1633.4,926.6 L1635.5,927.6 L1637.7,930.8 L1639.8,937.3 L1641.9,947.7 L1645.0,970.9 L1648.2,947.7 L1650.3,940.2 L1652.4,928.7 L1654.5,924.8 L1656.6,918.1 L1659.8,911.8 L1663.0,935.0 L1665.1,947.7 L1667.2,933.1 L1669.3,918.1 L1671.4,908.8 L1673.5,899.1 L1675.4,896.5 L1677.3,890.7 L1679.8,909.7 L1682.0,922.1 L1684.1,935.0 L1687.2,909.7 L1689.3,904.0 L1691.4,899.1 L1694.2,892.8 L1697.1,901.2 L1699.0,909.0 L1700.9,918.1 L1704.1,937.1 L1706.2,922.3 L1708.3,909.7 L1710.4,897.0 L1713.6,928.7 L1716.8,880.2 L1719.9,882.3 L1723.1,878.0 L1726.2,852.7 L1728.4,840.1 L1730.5,831.6 L1732.6,824.9 L1734.7,816.9 L1736.8,810.2 L1738.9,804.2 L1741.0,808.7 L1743.1,812.7 L1745.2,819.0 L1747.0,730.0 L1749.5,667.5 L1752.5,600.0 L1755.0,565.0 L1756.9,566.8 L1758.8,572.5 L1760.6,579.4 L1762.5,587.5 L1764.4,568.4 L1766.2,552.5 L1768.1,538.4 L1770.0,527.5 L1771.9,532.7 L1773.8,540.0 L1775.6,532.7 L1777.5,522.5 L1780.0,515.0 L1781.9,518.3 L1783.8,522.5 L1786.2,490.0 L1788.8,447.5 L1791.2,402.5 L1793.8,410.0 L1795.6,397.1 L1797.5,385.0 L1800.0,395.0 L1802.5,420.0 L1804.4,410.5 L1806.2,400.0 L1808.8,370.0 L1811.2,375.0 L1813.1,367.6 L1815.0,362.5 L1816.9,349.1 L1818.8,340.0 L1821.2,325.0 L1823.8,335.0 L1826.2,305.0 L1828.8,297.5 L1830.8,291.2 L1832.5,315.0 L1834.5,345.0 L1836.2,380.0 L1837.5,415.0 L1838.8,452.5 L1840.0,490.0 L1841.2,515.0 L1842.5,540.0 L1845.0,550.0 L1847.5,532.5 L1850.0,527.5 L1852.5,535.0 L1855.0,505.0 L1857.5,498.8 L1860.0,510.0 L1862.5,522.5 L1864.4,531.4 L1866.2,540.0 L1868.1,546.3 L1870.0,552.5 L1872.5,577.5 L1873.8,600.0 L1875.0,630.0 L1877.5,617.5 L1880.0,635.0 L1881.9,654.4 L1883.8,672.5 L1886.2,647.5 L1887.9,644.3 L1889.6,642.5 L1891.2,638.8 L1893.8,660.0 L1895.6,667.3 L1897.5,672.5 L1900.0,700.0 L1902.5,742.5 L1905.0,795.0 L1907.5,782.5 L1909.4,792.6 L1911.2,805.0 L1913.1,818.7 L1915.0,832.5 L1916.9,823.7 L1918.8,815.0 L1921.2,820.0 L1923.8,792.5 L1925.6,786.3 L1927.5,782.5 L1930.0,797.5 L1931.9,800.9 L1933.8,805.0 L1936.2,787.5 L1938.8,820.0 L1941.2,870.0 L1943.8,855.0 L1946.2,835.0 L1948.1,824.0 L1950.0,812.5 L1952.5,827.5 L1954.4,815.5 L1956.2,800.0 L1958.1,811.8 L1960.0,820.0 L1961.9,825.3 L1963.8,832.5 L1965.4,822.7 L1967.1,809.7 L1968.8,801.2 L1970.6,817.5 L1972.5,837.5 L1974.4,855.1 L1976.2,872.5 L1978.8,875.0 L1980.4,886.7 L1982.0,895.0 L1985.0,855.0 L1987.5,812.5 L1990.0,795.0 L1992.5,760.0 L1994.4,748.5 L1996.2,740.0 L1998.1,743.7 L2000.0,745.0 L2002.5,765.0 L2004.4,750.4 L2006.2,732.5 L2008.1,744.2 L2010.0,757.5 L2011.7,748.3 L2013.3,739.0 L2015.0,727.5 L2016.9,734.4 L2018.8,742.5 L2020.6,754.6 L2022.5,765.0 L2024.4,757.3 L2026.2,747.5 L2028.1,751.7 L2030.0,755.0 L2032.5,746.2 L2035.5,782.5 L2037.5,740.0 L2040.0,722.5 L2042.2,702.0 L2044.3,678.3 L2046.0,626.2 L2047.8,591.5 L2049.5,560.3 L2052.1,542.9 L2054.7,525.6 L2057.3,520.3 L2059.9,511.7 L2061.7,496.0 L2063.4,480.4 L2064.8,459.6 L2066.5,432.7 L2067.9,459.6 L2069.5,480.4 L2072.1,485.6 L2073.8,490.0 L2075.6,490.8 L2078.2,504.7 L2079.9,530.8 L2081.6,544.7 L2084.2,551.6 L2086.8,542.9 L2089.4,549.9 L2092.0,560.3 L2094.7,558.5 L2097.3,572.4 L2099.0,586.3 L2100.7,605.4 L2102.5,608.9 L2105.1,591.5 L2107.7,601.9 L2110.3,603.7 L2112.0,599.6 L2113.8,591.5 L2116.4,588.1 L2119.0,582.8 L2120.7,595.0 L2122.4,617.6 L2124.2,652.3 L2126.8,643.6 L2128.5,608.9 L2130.2,626.2 L2132.0,661.0 L2133.7,695.7 L2134.6,720.0 L2135.0,732.8 L2137.1,734.5 L2139.2,735.6 L2141.9,771.7 L2144.0,768.9 L2146.1,768.9 L2148.9,813.3 L2150.3,852.2 L2152.4,833.1 L2154.4,816.1 L2157.2,813.3 L2160.0,827.2 L2162.8,788.3 L2164.9,760.7 L2166.9,735.6 L2169.7,757.8 L2171.8,742.8 L2173.9,727.2 L2176.7,721.7 L2178.8,735.3 L2180.8,746.7 L2182.9,735.0 L2185.0,727.2 L2187.8,718.9 L2189.9,726.6 L2191.9,732.8 L2194.0,732.3 L2196.1,730.0 L2198.9,749.4 L2201.0,757.1 L2203.1,766.1 L2205.1,753.7 L2207.2,741.1 L2209.3,727.1 L2211.4,716.1 L2214.2,768.9 L2216.9,735.6 L2219.7,763.3 L2222.5,807.8 L2225.3,785.6 L2228.1,774.4 L2230.8,788.3 L2232.9,794.9 L2235.0,799.4 L2237.1,814.1 L2239.2,832.8 L2241.9,852.2 L2244.7,813.3 L2247.5,835.6 L2249.6,857.1 L2251.7,874.4 L2254.4,899.4 L2256.5,910.5 L2258.6,918.9 L2260.7,923.6 L2262.8,927.2 L2265.6,913.3 L2268.3,902.2 L2270.6,899.4 L2272.2,877.6 L2273.9,857.8 L2276.0,867.9 L2278.1,874.4 L2280.1,873.7 L2282.2,868.9 L2284.3,865.9 L2286.4,866.1 L2288.5,861.8 L2290.6,855.0 L2292.2,853.0 L2293.9,848.1 L2296.1,860.6 L2298.9,880.0 L2301.7,896.7 L2303.8,900.1 L2305.8,902.2 L2307.9,901.7 L2310.0,899.4 L2312.1,896.4 L2314.2,893.9 L2316.2,901.3 L2318.3,905.0 L2320.4,905.7 L2322.5,902.2 L2324.6,900.3 L2326.7,899.4 L2328.1,921.7 L2330.8,938.3 L2333.6,927.2 L2336.4,941.1 L2339.2,963.3 L2341.1,952.2 L2342.5,974.4 L2342.5,1310 L355.3,1310 Z" fill="#7670ff" fill-opacity="0.52"/>
<path d="M355.3,1310.7 L358.3,1301.6 L360.6,1293.9 L362.9,1289.4 L366.0,1274.1 L367.9,1272.6 L369.8,1269.1 L371.7,1263.8 L373.6,1261.9 L375.6,1255.7 L377.7,1249.4 L379.7,1243.5 L381.5,1242.4 L383.3,1241.2 L385.1,1236.4 L386.8,1234.3 L388.6,1236.1 L390.4,1232.8 L392.7,1222.6 L395.0,1213.0 L397.3,1194.3 L399.6,1173.3 L401.6,1157.8 L403.6,1146.6 L405.7,1133.6 L407.6,1124.6 L409.5,1112.5 L411.4,1105.7 L413.3,1093.8 L415.2,1087.1 L417.0,1074.7 L418.8,1066.1 L420.6,1059.8 L422.5,1051.1 L424.3,1043.8 L426.1,1032.2 L428.0,1022.3 L429.8,1014.1 L431.6,1005.3 L433.5,994.9 L435.3,987.5 L437.1,980.2 L439.0,972.2 L440.8,964.0 L443.1,959.0 L445.4,956.4 L448.4,968.6 L450.5,960.8 L452.5,954.1 L454.6,948.7 L456.6,936.8 L458.6,924.4 L460.7,913.6 L462.2,910.5 L465.3,921.2 L467.2,919.5 L469.1,923.5 L471.0,922.6 L472.9,922.8 L475.2,914.2 L477.5,904.4 L479.9,904.4 L481.7,910.7 L483.6,919.7 L486.6,925.8 L489.7,950.3 L491.5,958.5 L493.4,964.1 L495.2,966.9 L497.0,974.0 L498.9,980.8 L501.1,987.9 L503.4,993.0 L506.5,997.6 L508.4,1005.8 L510.3,1014.0 L512.2,1019.0 L514.1,1026.6 L516.0,1034.2 L517.8,1039.6 L519.6,1044.1 L521.5,1051.5 L523.3,1057.2 L525.1,1065.6 L527.0,1072.1 L528.8,1077.4 L530.6,1084.5 L532.5,1090.8 L534.3,1095.5 L536.1,1103.1 L538.0,1112.3 L539.8,1117.3 L541.6,1124.4 L543.7,1133.1 L545.7,1145.0 L547.7,1154.9 L550.8,1179.4 L553.8,1185.5 L556.1,1178.7 L558.4,1170.2 L561.5,1168.7 L563.8,1179.4 L566.1,1188.5 L568.1,1192.1 L570.1,1196.4 L572.2,1200.8 L574.5,1203.1 L576.8,1205.3 L579.0,1198.2 L581.3,1188.5 L584.4,1194.7 L587.4,1197.7 L590.5,1219.1 L592.5,1216.6 L594.6,1213.5 L596.6,1211.5 L598.6,1210.4 L600.7,1207.3 L602.7,1208.4 L604.8,1207.9 L606.8,1212.4 L608.8,1213.0 L610.9,1213.6 L612.9,1210.3 L614.9,1208.4 L617.2,1198.8 L619.5,1190.1 L621.4,1188.0 L623.2,1188.9 L625.0,1190.4 L626.9,1188.8 L628.7,1187.0 L630.6,1183.8 L632.5,1181.7 L634.4,1175.5 L636.3,1173.3 L638.6,1174.9 L640.9,1176.3 L642.8,1180.6 L644.7,1181.2 L646.6,1183.0 L648.5,1185.5 L651.6,1167.2 L653.5,1163.1 L655.4,1161.3 L657.3,1160.0 L659.2,1154.9 L662.3,1136.6 L665.3,1145.8 L667.3,1142.1 L669.2,1144.0 L671.1,1142.6 L673.0,1139.7 L675.0,1135.3 L677.1,1128.5 L679.1,1121.3 L682.1,1115.2 L684.2,1117.1 L686.2,1116.3 L688.3,1116.8 L690.3,1112.4 L692.3,1107.3 L694.4,1103.0 L696.7,1099.5 L698.9,1100.0 L700.5,1057.2 L703.5,1055.7 L706.6,1067.9 L708.6,1068.0 L710.7,1065.1 L712.7,1063.3 L714.7,1061.0 L716.8,1061.3 L718.8,1060.2 L720.8,1061.2 L722.9,1061.6 L724.9,1063.3 L727.0,1061.6 L729.0,1061.4 L731.0,1060.2 L733.1,1056.2 L735.1,1051.6 L737.1,1046.5 L740.2,1063.3 L742.2,1068.2 L744.3,1071.4 L746.3,1078.6 L748.3,1082.5 L750.4,1087.3 L752.4,1093.8 L754.4,1093.2 L756.5,1093.4 L758.5,1090.8 L760.8,1096.7 L763.1,1100.0 L765.4,1112.0 L767.7,1121.3 L770.0,1116.6 L772.3,1109.1 L774.6,1092.8 L776.8,1078.6 L779.1,1072.4 L781.4,1063.3 L784.5,1069.4 L787.5,1106.1 L789.8,1091.5 L792.1,1075.5 L794.4,1063.0 L796.7,1054.1 L799.0,1055.1 L801.3,1060.2 L803.3,1056.6 L805.4,1058.3 L807.4,1055.7 L809.4,1053.0 L811.5,1050.9 L813.5,1051.1 L815.8,1047.0 L818.1,1041.9 L820.4,1045.8 L822.7,1051.1 L824.7,1052.2 L826.7,1055.7 L828.8,1060.2 L830.8,1061.4 L832.9,1060.8 L834.9,1063.3 L836.7,1062.9 L838.6,1065.4 L840.4,1064.9 L842.2,1065.0 L844.1,1066.3 L846.3,1063.2 L848.6,1060.2 L850.9,1039.8 L853.2,1023.6 L854.7,1015.9 L857.0,1016.2 L859.3,1017.5 L862.4,1015.9 L865.4,1038.9 L867.7,1039.3 L870.0,1040.4 L872.3,1033.7 L874.6,1029.7 L877.7,1032.7 L880.0,1028.0 L882.2,1026.6 L884.5,1026.9 L886.8,1023.6 L889.1,1018.3 L891.4,1012.9 L893.7,1016.2 L896.0,1022.1 L898.0,1025.1 L900.1,1028.5 L902.1,1029.7 L904.1,1028.6 L906.2,1029.6 L908.2,1032.7 L910.2,1027.1 L912.3,1025.6 L914.3,1020.5 L916.4,1016.0 L918.4,1015.3 L920.4,1011.4 L922.7,1008.3 L925.0,1003.7 L927.3,1003.9 L929.6,1003.7 L932.6,988.4 L935.7,997.6 L938.0,997.9 L940.3,1000.7 L943.3,1023.6 L945.6,1031.8 L947.9,1035.8 L950.2,1046.3 L952.5,1054.1 L954.8,1060.3 L957.1,1066.3 L959.4,1063.6 L961.7,1063.3 L963.7,1084.9 L965.6,1098.1 L967.5,1110.0 L969.2,1107.9 L970.9,1106.6 L972.9,1100.0 L975.0,1092.8 L976.6,1092.0 L978.2,1093.3 L979.9,1092.8 L981.6,1093.4 L983.2,1096.9 L984.9,1102.4 L986.6,1102.9 L988.3,1099.5 L990.0,1092.8 L991.6,1080.9 L993.2,1072.4 L994.9,1059.8 L996.6,1054.6 L998.4,1053.0 L1000.1,1046.7 L1001.8,1050.9 L1003.6,1052.6 L1005.3,1055.0 L1007.0,1057.1 L1008.7,1062.4 L1010.6,1057.5 L1012.5,1047.2 L1014.4,1044.1 L1016.2,1036.2 L1018.1,1034.4 L1020.0,1029.0 L1021.9,1023.5 L1023.7,1021.2 L1025.6,1019.0 L1027.5,1015.7 L1029.4,1009.9 L1031.2,998.3 L1033.1,985.0 L1035.0,972.4 L1036.9,963.1 L1038.7,954.2 L1040.6,946.2 L1042.5,934.9 L1044.4,926.9 L1046.2,916.2 L1048.1,905.9 L1050.0,894.8 L1051.9,886.2 L1053.7,874.4 L1055.6,866.9 L1057.5,856.2 L1059.4,845.3 L1061.2,836.2 L1063.1,826.2 L1065.0,822.9 L1066.9,822.8 L1068.7,818.7 L1070.6,811.1 L1072.5,800.0 L1074.4,779.1 L1076.2,762.5 L1078.1,744.3 L1080.0,728.7 L1081.9,733.6 L1083.7,740.0 L1085.6,744.0 L1087.5,743.7 L1089.3,722.5 L1091.2,698.7 L1093.1,683.6 L1095.0,668.7 L1096.8,655.6 L1098.7,662.9 L1100.6,668.7 L1102.5,680.2 L1104.3,690.6 L1106.2,698.7 L1108.1,688.0 L1110.0,680.4 L1111.8,668.7 L1113.7,662.1 L1115.6,653.7 L1117.2,649.3 L1118.8,647.1 L1120.5,640.6 L1122.7,655.4 L1125.0,672.5 L1126.8,666.9 L1128.7,659.4 L1130.6,663.2 L1132.5,669.2 L1134.3,676.2 L1136.2,672.9 L1138.1,664.7 L1140.0,661.9 L1141.8,655.6 L1143.7,666.7 L1145.6,678.4 L1147.5,687.5 L1149.3,678.1 L1151.2,669.3 L1153.1,661.2 L1155.7,646.2 L1158.0,635.0 L1159.8,578.7 L1162.5,586.2 L1165.5,631.2 L1168.1,638.7 L1170.2,630.3 L1172.3,625.4 L1174.5,616.2 L1177.5,635.0 L1179.3,648.6 L1181.2,661.2 L1183.1,676.4 L1185.0,687.5 L1186.8,685.4 L1188.7,678.4 L1190.6,676.2 L1192.5,666.1 L1194.3,655.6 L1196.2,660.4 L1198.1,668.7 L1200.0,687.5 L1201.8,691.7 L1203.7,698.1 L1205.6,706.2 L1207.5,728.5 L1209.3,747.5 L1211.0,746.2 L1212.6,743.9 L1214.2,740.0 L1216.4,754.3 L1218.7,770.0 L1220.6,780.5 L1222.4,791.2 L1224.3,800.0 L1226.2,806.9 L1228.1,815.3 L1229.9,822.4 L1231.8,829.7 L1233.7,837.5 L1235.6,846.7 L1237.4,856.2 L1239.3,878.5 L1241.2,897.4 L1241.9,972.4 L1243.1,1009.9 L1244.9,1016.8 L1246.8,1023.0 L1248.7,1018.3 L1250.6,1009.9 L1252.4,992.9 L1254.3,976.2 L1256.2,970.5 L1258.1,966.8 L1259.9,980.2 L1261.8,991.2 L1263.7,1000.1 L1265.6,1006.2 L1267.4,992.8 L1269.3,983.7 L1270.9,975.0 L1272.6,963.1 L1274.2,955.5 L1276.4,966.0 L1278.7,979.9 L1280.6,987.2 L1282.4,989.1 L1284.3,996.8 L1286.2,993.8 L1288.1,995.2 L1289.9,991.2 L1291.8,985.8 L1293.7,979.5 L1295.6,976.2 L1297.4,969.7 L1299.3,965.0 L1301.2,961.2 L1303.1,966.0 L1304.9,966.9 L1306.8,972.4 L1308.7,964.2 L1310.6,951.9 L1312.4,942.4 L1314.3,939.5 L1316.2,934.2 L1318.1,927.4 L1319.9,919.0 L1321.8,912.4 L1323.4,916.3 L1325.1,922.3 L1326.7,927.4 L1328.4,916.3 L1330.2,909.4 L1331.9,899.3 L1333.6,904.2 L1335.2,910.9 L1336.8,919.9 L1338.7,923.3 L1340.6,921.5 L1342.4,923.7 L1344.7,935.4 L1346.9,946.2 L1348.5,931.0 L1350.2,915.4 L1351.8,901.2 L1353.4,893.0 L1355.0,890.5 L1356.7,882.4 L1358.9,892.0 L1361.2,897.4 L1363.0,905.7 L1364.9,908.2 L1366.8,916.2 L1368.7,901.8 L1370.5,889.9 L1372.4,866.1 L1374.3,841.2 L1376.2,826.4 L1378.0,807.5 L1379.9,805.8 L1381.8,803.7 L1383.7,813.9 L1385.5,822.4 L1387.4,820.7 L1389.3,816.4 L1391.2,815.0 L1393.0,809.5 L1394.9,803.7 L1396.8,812.2 L1398.7,822.4 L1400.5,834.5 L1402.4,848.7 L1404.3,845.6 L1406.2,845.2 L1408.0,844.9 L1409.9,842.4 L1411.8,835.6 L1413.7,836.0 L1415.5,837.5 L1417.4,837.4 L1419.3,845.6 L1421.2,854.4 L1423.0,859.9 L1424.9,865.1 L1426.8,871.2 L1428.7,857.2 L1430.5,844.9 L1432.4,821.7 L1434.3,800.0 L1436.2,797.3 L1438.0,796.2 L1439.9,810.9 L1441.8,822.4 L1443.7,837.3 L1445.5,848.7 L1447.4,838.5 L1449.3,829.9 L1451.9,811.2 L1453.5,814.2 L1455.2,818.9 L1456.8,822.4 L1458.7,835.3 L1460.5,847.9 L1462.4,859.9 L1464.3,871.9 L1466.2,886.2 L1468.0,863.5 L1469.9,844.9 L1471.8,830.7 L1473.6,818.7 L1475.5,801.8 L1477.4,788.7 L1479.3,788.9 L1481.1,786.8 L1483.0,788.7 L1484.9,784.3 L1486.8,784.3 L1488.6,781.2 L1490.5,776.5 L1492.4,775.0 L1494.3,770.0 L1496.5,762.4 L1498.8,755.0 L1500.4,765.3 L1502.0,770.9 L1503.6,781.2 L1505.5,779.3 L1507.4,777.5 L1509.3,771.3 L1511.1,762.5 L1513.0,768.1 L1514.9,779.4 L1516.8,785.0 L1518.6,798.5 L1520.5,815.0 L1522.4,841.2 L1524.3,846.2 L1526.1,848.7 L1528.0,849.6 L1529.9,847.6 L1531.8,844.9 L1533.6,851.6 L1535.5,859.9 L1537.1,854.5 L1538.8,852.5 L1540.4,848.7 L1542.6,859.9 L1544.9,867.4 L1546.8,864.0 L1548.6,864.2 L1550.5,859.9 L1552.4,873.4 L1554.3,889.9 L1555.9,910.1 L1557.5,926.6 L1559.6,937.2 L1561.7,951.9 L1563.8,956.3 L1565.9,962.4 L1568.0,966.3 L1570.2,966.6 L1572.3,975.4 L1574.4,981.4 L1576.5,972.7 L1578.6,960.3 L1580.7,981.9 L1582.8,1000.4 L1584.9,993.0 L1587.0,983.5 L1589.1,975.9 L1591.2,966.6 L1593.4,957.8 L1595.5,951.9 L1597.6,948.4 L1599.7,945.5 L1601.8,953.5 L1603.9,964.5 L1607.1,960.3 L1610.2,956.1 L1612.3,948.6 L1614.5,939.2 L1617.6,947.7 L1620.8,947.7 L1622.9,965.3 L1625.0,981.4 L1628.2,935.0 L1630.3,909.7 L1633.4,926.6 L1635.5,927.6 L1637.7,930.8 L1639.8,937.3 L1641.9,947.7 L1645.0,970.9 L1648.2,947.7 L1650.3,940.2 L1652.4,928.7 L1654.5,924.8 L1656.6,918.1 L1659.8,911.8 L1663.0,935.0 L1665.1,947.7 L1667.2,933.1 L1669.3,918.1 L1671.4,908.8 L1673.5,899.1 L1675.4,896.5 L1677.3,890.7 L1679.8,909.7 L1682.0,922.1 L1684.1,935.0 L1687.2,909.7 L1689.3,904.0 L1691.4,899.1 L1694.2,892.8 L1697.1,901.2 L1699.0,909.0 L1700.9,918.1 L1704.1,937.1 L1706.2,922.3 L1708.3,909.7 L1710.4,897.0 L1713.6,928.7 L1716.8,880.2 L1719.9,882.3 L1723.1,878.0 L1726.2,852.7 L1728.4,840.1 L1730.5,831.6 L1732.6,824.9 L1734.7,816.9 L1736.8,810.2 L1738.9,804.2 L1741.0,808.7 L1743.1,812.7 L1745.2,819.0 L1747.0,730.0 L1749.5,667.5 L1752.5,600.0 L1755.0,565.0 L1756.9,566.8 L1758.8,572.5 L1760.6,579.4 L1762.5,587.5 L1764.4,568.4 L1766.2,552.5 L1768.1,538.4 L1770.0,527.5 L1771.9,532.7 L1773.8,540.0 L1775.6,532.7 L1777.5,522.5 L1780.0,515.0 L1781.9,518.3 L1783.8,522.5 L1786.2,490.0 L1788.8,447.5 L1791.2,402.5 L1793.8,410.0 L1795.6,397.1 L1797.5,385.0 L1800.0,395.0 L1802.5,420.0 L1804.4,410.5 L1806.2,400.0 L1808.8,370.0 L1811.2,375.0 L1813.1,367.6 L1815.0,362.5 L1816.9,349.1 L1818.8,340.0 L1821.2,325.0 L1823.8,335.0 L1826.2,305.0 L1828.8,297.5 L1830.8,291.2 L1832.5,315.0 L1834.5,345.0 L1836.2,380.0 L1837.5,415.0 L1838.8,452.5 L1840.0,490.0 L1841.2,515.0 L1842.5,540.0 L1845.0,550.0 L1847.5,532.5 L1850.0,527.5 L1852.5,535.0 L1855.0,505.0 L1857.5,498.8 L1860.0,510.0 L1862.5,522.5 L1864.4,531.4 L1866.2,540.0 L1868.1,546.3 L1870.0,552.5 L1872.5,577.5 L1873.8,600.0 L1875.0,630.0 L1877.5,617.5 L1880.0,635.0 L1881.9,654.4 L1883.8,672.5 L1886.2,647.5 L1887.9,644.3 L1889.6,642.5 L1891.2,638.8 L1893.8,660.0 L1895.6,667.3 L1897.5,672.5 L1900.0,700.0 L1902.5,742.5 L1905.0,795.0 L1907.5,782.5 L1909.4,792.6 L1911.2,805.0 L1913.1,818.7 L1915.0,832.5 L1916.9,823.7 L1918.8,815.0 L1921.2,820.0 L1923.8,792.5 L1925.6,786.3 L1927.5,782.5 L1930.0,797.5 L1931.9,800.9 L1933.8,805.0 L1936.2,787.5 L1938.8,820.0 L1941.2,870.0 L1943.8,855.0 L1946.2,835.0 L1948.1,824.0 L1950.0,812.5 L1952.5,827.5 L1954.4,815.5 L1956.2,800.0 L1958.1,811.8 L1960.0,820.0 L1961.9,825.3 L1963.8,832.5 L1965.4,822.7 L1967.1,809.7 L1968.8,801.2 L1970.6,817.5 L1972.5,837.5 L1974.4,855.1 L1976.2,872.5 L1978.8,875.0 L1980.4,886.7 L1982.0,895.0 L1985.0,855.0 L1987.5,812.5 L1990.0,795.0 L1992.5,760.0 L1994.4,748.5 L1996.2,740.0 L1998.1,743.7 L2000.0,745.0 L2002.5,765.0 L2004.4,750.4 L2006.2,732.5 L2008.1,744.2 L2010.0,757.5 L2011.7,748.3 L2013.3,739.0 L2015.0,727.5 L2016.9,734.4 L2018.8,742.5 L2020.6,754.6 L2022.5,765.0 L2024.4,757.3 L2026.2,747.5 L2028.1,751.7 L2030.0,755.0 L2032.5,746.2 L2035.5,782.5 L2037.5,740.0 L2040.0,722.5 L2042.2,702.0 L2044.3,678.3 L2046.0,626.2 L2047.8,591.5 L2049.5,560.3 L2052.1,542.9 L2054.7,525.6 L2057.3,520.3 L2059.9,511.7 L2061.7,496.0 L2063.4,480.4 L2064.8,459.6 L2066.5,432.7 L2067.9,459.6 L2069.5,480.4 L2072.1,485.6 L2073.8,490.0 L2075.6,490.8 L2078.2,504.7 L2079.9,530.8 L2081.6,544.7 L2084.2,551.6 L2086.8,542.9 L2089.4,549.9 L2092.0,560.3 L2094.7,558.5 L2097.3,572.4 L2099.0,586.3 L2100.7,605.4 L2102.5,608.9 L2105.1,591.5 L2107.7,601.9 L2110.3,603.7 L2112.0,599.6 L2113.8,591.5 L2116.4,588.1 L2119.0,582.8 L2120.7,595.0 L2122.4,617.6 L2124.2,652.3 L2126.8,643.6 L2128.5,608.9 L2130.2,626.2 L2132.0,661.0 L2133.7,695.7 L2134.6,720.0 L2135.0,732.8 L2137.1,734.5 L2139.2,735.6 L2141.9,771.7 L2144.0,768.9 L2146.1,768.9 L2148.9,813.3 L2150.3,852.2 L2152.4,833.1 L2154.4,816.1 L2157.2,813.3 L2160.0,827.2 L2162.8,788.3 L2164.9,760.7 L2166.9,735.6 L2169.7,757.8 L2171.8,742.8 L2173.9,727.2 L2176.7,721.7 L2178.8,735.3 L2180.8,746.7 L2182.9,735.0 L2185.0,727.2 L2187.8,718.9 L2189.9,726.6 L2191.9,732.8 L2194.0,732.3 L2196.1,730.0 L2198.9,749.4 L2201.0,757.1 L2203.1,766.1 L2205.1,753.7 L2207.2,741.1 L2209.3,727.1 L2211.4,716.1 L2214.2,768.9 L2216.9,735.6 L2219.7,763.3 L2222.5,807.8 L2225.3,785.6 L2228.1,774.4 L2230.8,788.3 L2232.9,794.9 L2235.0,799.4 L2237.1,814.1 L2239.2,832.8 L2241.9,852.2 L2244.7,813.3 L2247.5,835.6 L2249.6,857.1 L2251.7,874.4 L2254.4,899.4 L2256.5,910.5 L2258.6,918.9 L2260.7,923.6 L2262.8,927.2 L2265.6,913.3 L2268.3,902.2 L2270.6,899.4 L2272.2,877.6 L2273.9,857.8 L2276.0,867.9 L2278.1,874.4 L2280.1,873.7 L2282.2,868.9 L2284.3,865.9 L2286.4,866.1 L2288.5,861.8 L2290.6,855.0 L2292.2,853.0 L2293.9,848.1 L2296.1,860.6 L2298.9,880.0 L2301.7,896.7 L2303.8,900.1 L2305.8,902.2 L2307.9,901.7 L2310.0,899.4 L2312.1,896.4 L2314.2,893.9 L2316.2,901.3 L2318.3,905.0 L2320.4,905.7 L2322.5,902.2 L2324.6,900.3 L2326.7,899.4 L2328.1,921.7 L2330.8,938.3 L2333.6,927.2 L2336.4,941.1 L2339.2,963.3 L2341.1,952.2 L2342.5,974.4" fill="none" stroke="#7773f7" stroke-width="4.2" stroke-linejoin="round"/>
<path d="M357.6,1303.4h3.3V1306.1h-3.3zM371.8,1281.4h3.3V1289.6h-3.3zM374.6,1273.1h3.3V1279.7h-3.3zM380.3,1264.6h3.3V1273.2h-3.3zM383.1,1270.7h3.3V1276.8h-3.3zM386.0,1277.2h3.3V1286.3h-3.3zM397.3,1282.0h3.3V1290.3h-3.3zM400.1,1150.5h3.3V1302.5h-3.3zM408.6,1286.9h3.3V1298.2h-3.3zM411.5,1270.9h3.3V1279.2h-3.3zM417.1,1296.2h3.3V1301.1h-3.3zM420.0,1298.7h3.3V1302.9h-3.3zM422.8,1252.7h3.3V1271.8h-3.3zM425.6,1267.5h3.3V1289.0h-3.3zM445.5,1287.1h3.3V1292.4h-3.3zM451.2,1263.4h3.3V1279.2h-3.3zM459.7,1267.5h3.3V1305.4h-3.3zM471.0,1285.6h3.3V1288.8h-3.3zM476.7,1252.5h3.3V1295.2h-3.3zM553.2,1285.2h3.3V1296.9h-3.3zM561.7,1247.5h3.3V1298.0h-3.3zM570.2,1279.7h3.3V1290.0h-3.3zM573.1,1286.5h3.3V1294.3h-3.3zM578.7,1210.5h3.3V1295.3h-3.3zM598.6,1285.4h3.3V1289.1h-3.3zM601.4,1300.1h3.3V1306.1h-3.3zM615.6,1279.1h3.3V1285.7h-3.3zM621.3,1288.8h3.3V1294.2h-3.3zM624.1,1277.2h3.3V1287.8h-3.3zM632.6,1262.5h3.3V1304.2h-3.3zM635.4,1283.4h3.3V1287.0h-3.3zM641.1,1296.2h3.3V1306.1h-3.3zM643.9,1271.7h3.3V1283.3h-3.3zM652.4,1280.4h3.3V1286.7h-3.3zM660.9,1254.7h3.3V1269.0h-3.3zM675.1,1240.5h3.3V1291.9h-3.3zM680.8,1273.2h3.3V1278.9h-3.3zM695.0,1271.6h3.3V1280.8h-3.3zM700.6,1149.5h3.3V1297.2h-3.3zM720.5,1265.5h3.3V1291.4h-3.3zM726.2,1269.1h3.3V1285.2h-3.3zM731.8,1267.5h3.3V1294.7h-3.3zM748.8,1255.4h3.3V1267.2h-3.3zM760.2,1282.9h3.3V1287.0h-3.3zM763.0,1298.8h3.3V1304.5h-3.3zM777.2,1190.5h3.3V1300.4h-3.3zM785.7,1240.5h3.3V1296.0h-3.3zM794.2,1277.3h3.3V1283.6h-3.3zM797.0,1279.7h3.3V1288.8h-3.3zM811.2,1245.5h3.3V1281.1h-3.3zM814.0,1266.9h3.3V1281.2h-3.3zM822.5,1290.5h3.3V1301.2h-3.3zM833.9,1236.2h3.3V1258.5h-3.3zM848.1,1195.5h3.3V1290.3h-3.3zM853.7,1149.5h3.3V1290.1h-3.3zM862.2,1250.7h3.3V1272.6h-3.3zM865.1,1231.6h3.3V1257.0h-3.3zM867.9,1225.6h3.3V1252.3h-3.3zM873.6,1253.3h3.3V1264.0h-3.3zM876.4,1220.5h3.3V1270.3h-3.3zM882.1,1227.0h3.3V1259.1h-3.3zM910.4,1246.3h3.3V1257.6h-3.3zM913.3,1213.2h3.3V1231.3h-3.3zM930.3,1266.5h3.3V1276.4h-3.3zM933.1,1207.5h3.3V1278.3h-3.3zM953.0,1273.1h3.3V1278.7h-3.3zM955.8,1258.2h3.3V1268.2h-3.3zM967.1,1180.5h3.3V1281.1h-3.3zM975.6,1182.5h3.3V1306.0h-3.3zM984.1,1235.7h3.3V1265.0h-3.3zM995.5,1135.5h3.3V1299.8h-3.3zM1001.1,1216.8h3.3V1243.2h-3.3zM1006.8,1213.8h3.3V1251.6h-3.3zM1015.3,1240.5h3.3V1279.6h-3.3zM1032.3,1279.8h3.3V1289.8h-3.3zM1043.7,1170.5h3.3V1268.2h-3.3zM1055.0,1164.8h3.3V1182.9h-3.3zM1060.7,1132.5h3.3V1288.9h-3.3zM1083.4,1230.3h3.3V1251.4h-3.3zM1097.5,1202.5h3.3V1298.5h-3.3zM1120.2,1061.5h3.3V1305.8h-3.3zM1134.4,1210.5h3.3V1283.5h-3.3zM1137.2,1274.9h3.3V1280.2h-3.3zM1148.6,1197.5h3.3V1295.2h-3.3zM1162.7,1233.8h3.3V1245.2h-3.3zM1179.8,1275.7h3.3V1299.1h-3.3zM1191.1,1207.5h3.3V1292.7h-3.3zM1216.6,1184.5h3.3V1209.5h-3.3zM1219.4,1174.8h3.3V1199.7h-3.3zM1227.9,1225.5h3.3V1260.6h-3.3zM1236.5,1219.0h3.3V1239.4h-3.3zM1250.6,1269.6h3.3V1278.7h-3.3zM1270.5,1130.5h3.3V1262.0h-3.3zM1284.6,1280.2h3.3V1304.7h-3.3zM1301.7,1152.5h3.3V1298.0h-3.3zM1313.0,1207.5h3.3V1294.5h-3.3zM1321.5,1260.9h3.3V1279.6h-3.3zM1347.0,1175.5h3.3V1276.2h-3.3zM1349.9,1231.5h3.3V1256.7h-3.3zM1352.7,1258.8h3.3V1267.8h-3.3zM1358.4,1247.8h3.3V1269.7h-3.3zM1366.9,1167.5h3.3V1299.6h-3.3zM1372.5,1222.9h3.3V1257.6h-3.3zM1375.4,1197.5h3.3V1268.6h-3.3zM1386.7,1203.1h3.3V1230.6h-3.3zM1392.4,1248.5h3.3V1256.3h-3.3zM1406.6,1238.5h3.3V1250.7h-3.3zM1432.1,1234.5h3.3V1255.7h-3.3zM1434.9,1187.5h3.3V1280.5h-3.3zM1437.7,1227.5h3.3V1248.3h-3.3zM1440.6,1264.3h3.3V1277.5h-3.3zM1443.4,1239.8h3.3V1256.8h-3.3zM1451.9,1282.5h3.3V1293.9h-3.3zM1457.6,1264.2h3.3V1271.5h-3.3zM1463.3,1231.2h3.3V1255.4h-3.3zM1471.8,1205.5h3.3V1290.6h-3.3zM1477.4,1280.7h3.3V1288.8h-3.3zM1485.9,1283.2h3.3V1289.7h-3.3zM1491.6,1257.7h3.3V1278.1h-3.3zM1500.1,1282.4h3.3V1290.7h-3.3zM1539.8,1174.5h3.3V1293.2h-3.3zM1562.5,1247.3h3.3V1270.6h-3.3zM1573.8,1217.0h3.3V1242.8h-3.3zM1576.7,1132.5h3.3V1285.0h-3.3zM1596.5,1202.6h3.3V1236.8h-3.3zM1599.3,1232.3h3.3V1247.9h-3.3zM1610.7,1252.6h3.3V1261.0h-3.3zM1622.0,1268.2h3.3V1290.1h-3.3zM1624.8,1263.4h3.3V1279.0h-3.3zM1667.4,1255.8h3.3V1275.1h-3.3zM1675.9,1200.0h3.3V1215.3h-3.3zM1701.4,1235.6h3.3V1257.6h-3.3zM1707.1,1194.4h3.3V1229.8h-3.3zM1709.9,1221.3h3.3V1245.9h-3.3zM1715.6,1149.5h3.3V1230.0h-3.3zM1724.1,1258.7h3.3V1268.7h-3.3zM1749.6,1113.5h3.3V1220.4h-3.3zM1752.4,1160.5h3.3V1262.7h-3.3zM1758.1,1185.5h3.3V1277.1h-3.3zM1766.6,1165.5h3.3V1238.0h-3.3zM1775.1,1182.7h3.3V1220.2h-3.3zM1780.8,1200.0h3.3V1217.2h-3.3zM1783.6,1181.5h3.3V1215.9h-3.3zM1786.4,1167.5h3.3V1239.0h-3.3zM1789.3,1164.7h3.3V1216.1h-3.3zM1792.1,1157.2h3.3V1203.4h-3.3zM1829.0,1111.5h3.3V1238.5h-3.3zM1834.6,1209.6h3.3V1224.5h-3.3zM1837.5,1172.0h3.3V1219.6h-3.3zM1851.6,1090.5h3.3V1301.1h-3.3zM1888.5,1115.5h3.3V1302.9h-3.3zM1905.5,1217.3h3.3V1228.6h-3.3zM1908.3,1211.3h3.3V1230.1h-3.3zM1914.0,1150.5h3.3V1275.7h-3.3zM1922.5,1139.5h3.3V1265.1h-3.3zM1925.4,1216.4h3.3V1245.1h-3.3zM1931.0,1279.5h3.3V1289.9h-3.3zM1936.7,1184.8h3.3V1228.8h-3.3zM1948.0,1202.2h3.3V1228.6h-3.3zM1953.7,1180.5h3.3V1284.6h-3.3zM1959.4,1262.3h3.3V1284.1h-3.3zM1965.0,1168.7h3.3V1194.9h-3.3zM1967.9,1218.1h3.3V1229.9h-3.3zM1973.6,1200.3h3.3V1222.4h-3.3zM1982.1,1150.5h3.3V1280.0h-3.3zM1984.9,1184.4h3.3V1216.2h-3.3zM1990.6,914.5h3.3V1291.4h-3.3zM1999.1,1176.5h3.3V1200.2h-3.3zM2004.7,1260.8h3.3V1276.1h-3.3zM2044.4,1107.5h3.3V1292.8h-3.3zM2050.1,1158.9h3.3V1205.4h-3.3zM2055.8,1140.5h3.3V1253.7h-3.3zM2061.4,879.5h3.3V1299.3h-3.3zM2069.9,1188.6h3.3V1226.3h-3.3zM2092.6,1150.8h3.3V1212.1h-3.3zM2101.1,1182.5h3.3V1246.7h-3.3zM2104.0,1231.2h3.3V1260.8h-3.3zM2112.5,1172.5h3.3V1241.3h-3.3zM2123.8,1072.5h3.3V1246.9h-3.3zM2126.6,1022.5h3.3V1175.9h-3.3zM2129.5,1187.9h3.3V1221.1h-3.3zM2132.3,1216.0h3.3V1250.3h-3.3zM2140.8,1161.6h3.3V1198.9h-3.3zM2143.7,1197.4h3.3V1226.6h-3.3zM2149.3,1221.5h3.3V1267.6h-3.3zM2155.0,1288.4h3.3V1294.0h-3.3zM2157.8,1195.2h3.3V1216.0h-3.3zM2163.5,1192.5h3.3V1286.3h-3.3zM2166.3,1254.0h3.3V1287.2h-3.3zM2169.2,1247.6h3.3V1270.1h-3.3zM2172.0,1190.5h3.3V1262.1h-3.3zM2174.8,1214.5h3.3V1232.0h-3.3zM2208.9,1175.5h3.3V1290.7h-3.3zM2217.4,1182.5h3.3V1261.5h-3.3zM2220.2,1219.1h3.3V1231.1h-3.3zM2228.7,1207.4h3.3V1248.6h-3.3zM2234.4,1198.1h3.3V1231.2h-3.3zM2240.0,1035.5h3.3V1260.3h-3.3zM2271.2,802.5h3.3V1294.2h-3.3zM2274.1,1237.2h3.3V1260.1h-3.3zM2285.4,1220.5h3.3V1265.5h-3.3zM2293.9,1222.5h3.3V1271.9h-3.3zM2327.9,1273.6h3.3V1286.1h-3.3zM2342.1,1201.5h0.4V1280.8h-0.4z" fill="#d2967f"/>
<path d="M355.0,1297.2h3.1V1310.0h-3.1zM357.6,1305.6h3.3V1310.0h-3.3zM360.4,1286.7h3.3V1310.0h-3.3zM363.3,1292.4h3.3V1310.0h-3.3zM366.1,1286.2h3.3V1310.0h-3.3zM368.9,1293.2h3.3V1310.0h-3.3zM371.8,1289.1h3.3V1310.0h-3.3zM374.6,1279.2h3.3V1310.0h-3.3zM377.4,1303.2h3.3V1310.0h-3.3zM380.3,1272.7h3.3V1310.0h-3.3zM383.1,1276.3h3.3V1310.0h-3.3zM386.0,1285.8h3.3V1310.0h-3.3zM388.8,1308.8h3.3V1310.0h-3.3zM391.6,1308.5h3.3V1310.0h-3.3zM394.5,1287.3h3.3V1310.0h-3.3zM397.3,1289.8h3.3V1310.0h-3.3zM400.1,1302.0h3.3V1310.0h-3.3zM403.0,1296.8h3.3V1310.0h-3.3zM405.8,1292.7h3.3V1310.0h-3.3zM408.6,1297.7h3.3V1310.0h-3.3zM411.5,1278.7h3.3V1310.0h-3.3zM414.3,1269.1h3.3V1310.0h-3.3zM417.1,1300.6h3.3V1310.0h-3.3zM420.0,1302.4h3.3V1310.0h-3.3zM422.8,1271.3h3.3V1310.0h-3.3zM425.6,1288.5h3.3V1310.0h-3.3zM428.5,1287.4h3.3V1310.0h-3.3zM431.3,1306.0h3.3V1310.0h-3.3zM434.1,1296.2h3.3V1310.0h-3.3zM437.0,1300.4h3.3V1310.0h-3.3zM439.8,1300.2h3.3V1310.0h-3.3zM442.7,1304.6h3.3V1310.0h-3.3zM445.5,1291.9h3.3V1310.0h-3.3zM448.3,1282.2h3.3V1310.0h-3.3zM451.2,1278.7h3.3V1310.0h-3.3zM454.0,1285.6h3.3V1310.0h-3.3zM456.8,1294.8h3.3V1310.0h-3.3zM459.7,1304.9h3.3V1310.0h-3.3zM462.5,1291.8h3.3V1310.0h-3.3zM465.3,1300.5h3.3V1310.0h-3.3zM468.2,1285.9h3.3V1310.0h-3.3zM471.0,1288.3h3.3V1310.0h-3.3zM473.8,1293.6h3.3V1310.0h-3.3zM476.7,1294.7h3.3V1310.0h-3.3zM479.5,1303.7h3.3V1310.0h-3.3zM482.3,1301.7h3.3V1310.0h-3.3zM485.2,1308.9h3.3V1310.0h-3.3zM488.0,1300.7h3.3V1310.0h-3.3zM490.8,1304.6h3.3V1310.0h-3.3zM493.7,1302.8h3.3V1310.0h-3.3zM496.5,1303.3h3.3V1310.0h-3.3zM499.4,1297.5h3.3V1310.0h-3.3zM502.2,1306.4h3.3V1310.0h-3.3zM505.0,1305.5h3.3V1310.0h-3.3zM507.9,1295.5h3.3V1310.0h-3.3zM510.7,1294.0h3.3V1310.0h-3.3zM513.5,1300.0h3.3V1310.0h-3.3zM516.4,1298.0h3.3V1310.0h-3.3zM519.2,1297.9h3.3V1310.0h-3.3zM522.0,1297.9h3.3V1310.0h-3.3zM524.9,1300.6h3.3V1310.0h-3.3zM527.7,1300.5h3.3V1310.0h-3.3zM530.5,1299.8h3.3V1310.0h-3.3zM533.4,1288.4h3.3V1310.0h-3.3zM536.2,1300.1h3.3V1310.0h-3.3zM539.0,1301.2h3.3V1310.0h-3.3zM541.9,1302.0h3.3V1310.0h-3.3zM544.7,1291.6h3.3V1310.0h-3.3zM547.5,1295.1h3.3V1310.0h-3.3zM550.4,1283.2h3.3V1310.0h-3.3zM553.2,1296.4h3.3V1310.0h-3.3zM556.1,1299.1h3.3V1310.0h-3.3zM558.9,1299.6h3.3V1310.0h-3.3zM561.7,1297.5h3.3V1310.0h-3.3zM564.6,1302.9h3.3V1310.0h-3.3zM567.4,1294.8h3.3V1310.0h-3.3zM570.2,1289.5h3.3V1310.0h-3.3zM573.1,1293.8h3.3V1310.0h-3.3zM575.9,1300.9h3.3V1310.0h-3.3zM578.7,1294.8h3.3V1310.0h-3.3zM581.6,1296.3h3.3V1310.0h-3.3zM584.4,1305.3h3.3V1310.0h-3.3zM587.2,1302.4h3.3V1310.0h-3.3zM590.1,1295.6h3.3V1310.0h-3.3zM592.9,1283.8h3.3V1310.0h-3.3zM595.7,1301.7h3.3V1310.0h-3.3zM598.6,1288.6h3.3V1310.0h-3.3zM601.4,1305.6h3.3V1310.0h-3.3zM604.2,1291.9h3.3V1310.0h-3.3zM607.1,1308.5h3.3V1310.0h-3.3zM609.9,1309.1h3.3V1310.0h-3.3zM612.8,1298.9h3.3V1310.0h-3.3zM615.6,1285.2h3.3V1310.0h-3.3zM618.4,1303.9h3.3V1310.0h-3.3zM621.3,1293.7h3.3V1310.0h-3.3zM624.1,1287.3h3.3V1310.0h-3.3zM626.9,1301.8h3.3V1310.0h-3.3zM629.8,1304.9h3.3V1310.0h-3.3zM632.6,1303.7h3.3V1310.0h-3.3zM635.4,1286.5h3.3V1310.0h-3.3zM638.3,1304.4h3.3V1310.0h-3.3zM641.1,1305.6h3.3V1310.0h-3.3zM643.9,1282.8h3.3V1310.0h-3.3zM646.8,1295.2h3.3V1310.0h-3.3zM649.6,1299.4h3.3V1310.0h-3.3zM652.4,1286.2h3.3V1310.0h-3.3zM655.3,1289.8h3.3V1310.0h-3.3zM658.1,1283.3h3.3V1310.0h-3.3zM660.9,1268.5h3.3V1310.0h-3.3zM663.8,1299.2h3.3V1310.0h-3.3zM666.6,1285.6h3.3V1310.0h-3.3zM669.5,1307.0h3.3V1310.0h-3.3zM672.3,1293.0h3.3V1310.0h-3.3zM675.1,1291.4h3.3V1310.0h-3.3zM678.0,1275.9h3.3V1310.0h-3.3zM680.8,1278.4h3.3V1310.0h-3.3zM683.6,1299.9h3.3V1310.0h-3.3zM686.5,1279.6h3.3V1310.0h-3.3zM689.3,1283.4h3.3V1310.0h-3.3zM692.1,1288.5h3.3V1310.0h-3.3zM695.0,1280.3h3.3V1310.0h-3.3zM697.8,1289.1h3.3V1310.0h-3.3zM700.6,1296.7h3.3V1310.0h-3.3zM703.5,1306.7h3.3V1310.0h-3.3zM706.3,1300.4h3.3V1310.0h-3.3zM709.1,1297.4h3.3V1310.0h-3.3zM712.0,1284.4h3.3V1310.0h-3.3zM714.8,1296.2h3.3V1310.0h-3.3zM717.6,1305.5h3.3V1310.0h-3.3zM720.5,1290.9h3.3V1310.0h-3.3zM723.3,1279.5h3.3V1310.0h-3.3zM726.2,1284.7h3.3V1310.0h-3.3zM729.0,1292.1h3.3V1310.0h-3.3zM731.8,1294.2h3.3V1310.0h-3.3zM734.7,1292.5h3.3V1310.0h-3.3zM737.5,1294.1h3.3V1310.0h-3.3zM740.3,1296.9h3.3V1310.0h-3.3zM743.2,1305.3h3.3V1310.0h-3.3zM746.0,1299.4h3.3V1310.0h-3.3zM748.8,1266.7h3.3V1310.0h-3.3zM751.7,1305.7h3.3V1310.0h-3.3zM754.5,1268.6h3.3V1310.0h-3.3zM757.3,1302.9h3.3V1310.0h-3.3zM760.2,1286.5h3.3V1310.0h-3.3zM763.0,1304.0h3.3V1310.0h-3.3zM765.8,1298.4h3.3V1310.0h-3.3zM768.7,1272.2h3.3V1310.0h-3.3zM771.5,1294.3h3.3V1310.0h-3.3zM774.3,1297.8h3.3V1310.0h-3.3zM777.2,1299.9h3.3V1310.0h-3.3zM780.0,1292.9h3.3V1310.0h-3.3zM782.9,1304.4h3.3V1310.0h-3.3zM785.7,1295.5h3.3V1310.0h-3.3zM788.5,1285.4h3.3V1310.0h-3.3zM791.4,1286.5h3.3V1310.0h-3.3zM794.2,1283.1h3.3V1310.0h-3.3zM797.0,1288.3h3.3V1310.0h-3.3zM799.9,1299.5h3.3V1310.0h-3.3zM802.7,1292.1h3.3V1310.0h-3.3zM805.5,1290.4h3.3V1310.0h-3.3zM808.4,1303.4h3.3V1310.0h-3.3zM811.2,1280.6h3.3V1310.0h-3.3zM814.0,1280.7h3.3V1310.0h-3.3zM816.9,1304.0h3.3V1310.0h-3.3zM819.7,1293.8h3.3V1310.0h-3.3zM822.5,1300.7h3.3V1310.0h-3.3zM825.4,1297.3h3.3V1310.0h-3.3zM828.2,1287.6h3.3V1310.0h-3.3zM831.0,1279.7h3.3V1310.0h-3.3zM833.9,1258.0h3.3V1310.0h-3.3zM836.7,1271.1h3.3V1310.0h-3.3zM839.6,1271.4h3.3V1310.0h-3.3zM842.4,1282.3h3.3V1310.0h-3.3zM845.2,1286.4h3.3V1310.0h-3.3zM848.1,1289.8h3.3V1310.0h-3.3zM850.9,1293.0h3.3V1310.0h-3.3zM853.7,1289.6h3.3V1310.0h-3.3zM856.6,1285.2h3.3V1310.0h-3.3zM859.4,1299.3h3.3V1310.0h-3.3zM862.2,1272.1h3.3V1310.0h-3.3zM865.1,1256.5h3.3V1310.0h-3.3zM867.9,1251.8h3.3V1310.0h-3.3zM870.7,1292.0h3.3V1310.0h-3.3zM873.6,1263.5h3.3V1310.0h-3.3zM876.4,1269.8h3.3V1310.0h-3.3zM879.2,1278.7h3.3V1310.0h-3.3zM882.1,1258.6h3.3V1310.0h-3.3zM884.9,1282.8h3.3V1310.0h-3.3zM887.7,1296.3h3.3V1310.0h-3.3zM890.6,1298.8h3.3V1310.0h-3.3zM893.4,1294.4h3.3V1310.0h-3.3zM896.3,1296.8h3.3V1310.0h-3.3zM899.1,1290.0h3.3V1310.0h-3.3zM901.9,1281.8h3.3V1310.0h-3.3zM904.8,1285.1h3.3V1310.0h-3.3zM907.6,1298.6h3.3V1310.0h-3.3zM910.4,1257.1h3.3V1310.0h-3.3zM913.3,1230.8h3.3V1310.0h-3.3zM916.1,1288.1h3.3V1310.0h-3.3zM918.9,1306.4h3.3V1310.0h-3.3zM921.8,1284.5h3.3V1310.0h-3.3zM924.6,1299.1h3.3V1310.0h-3.3zM927.4,1282.8h3.3V1310.0h-3.3zM930.3,1275.9h3.3V1310.0h-3.3zM933.1,1277.8h3.3V1310.0h-3.3zM935.9,1304.1h3.3V1310.0h-3.3zM938.8,1298.4h3.3V1310.0h-3.3zM941.6,1292.5h3.3V1310.0h-3.3zM944.4,1302.6h3.3V1310.0h-3.3zM947.3,1295.1h3.3V1310.0h-3.3zM950.1,1297.6h3.3V1310.0h-3.3zM953.0,1278.2h3.3V1310.0h-3.3zM955.8,1267.7h3.3V1310.0h-3.3zM958.6,1292.4h3.3V1310.0h-3.3zM961.5,1289.2h3.3V1310.0h-3.3zM964.3,1269.0h3.3V1310.0h-3.3zM967.1,1280.6h3.3V1310.0h-3.3zM970.0,1237.7h3.3V1310.0h-3.3zM972.8,1285.0h3.3V1310.0h-3.3zM975.6,1305.5h3.3V1310.0h-3.3zM978.5,1304.7h3.3V1310.0h-3.3zM981.3,1263.3h3.3V1310.0h-3.3zM984.1,1264.5h3.3V1310.0h-3.3zM987.0,1253.8h3.3V1310.0h-3.3zM989.8,1288.5h3.3V1310.0h-3.3zM992.6,1280.0h3.3V1310.0h-3.3zM995.5,1299.3h3.3V1310.0h-3.3zM998.3,1292.8h3.3V1310.0h-3.3zM1001.1,1242.7h3.3V1310.0h-3.3zM1004.0,1258.0h3.3V1310.0h-3.3zM1006.8,1251.1h3.3V1310.0h-3.3zM1009.7,1265.9h3.3V1310.0h-3.3zM1012.5,1281.5h3.3V1310.0h-3.3zM1015.3,1279.1h3.3V1310.0h-3.3zM1018.2,1294.4h3.3V1310.0h-3.3zM1021.0,1283.4h3.3V1310.0h-3.3zM1023.8,1274.2h3.3V1310.0h-3.3zM1026.7,1281.9h3.3V1310.0h-3.3zM1029.5,1292.2h3.3V1310.0h-3.3zM1032.3,1289.3h3.3V1310.0h-3.3zM1035.2,1293.6h3.3V1310.0h-3.3zM1038.0,1287.0h3.3V1310.0h-3.3zM1040.8,1230.1h3.3V1310.0h-3.3zM1043.7,1267.7h3.3V1310.0h-3.3zM1046.5,1272.2h3.3V1310.0h-3.3zM1049.3,1277.3h3.3V1310.0h-3.3zM1052.2,1237.4h3.3V1310.0h-3.3zM1055.0,1182.4h3.3V1310.0h-3.3zM1057.8,1278.6h3.3V1310.0h-3.3zM1060.7,1288.4h3.3V1310.0h-3.3zM1063.5,1289.3h3.3V1310.0h-3.3zM1066.4,1269.4h3.3V1310.0h-3.3zM1069.2,1296.9h3.3V1310.0h-3.3zM1072.0,1300.1h3.3V1310.0h-3.3zM1074.9,1294.9h3.3V1310.0h-3.3zM1077.7,1298.5h3.3V1310.0h-3.3zM1080.5,1289.3h3.3V1310.0h-3.3zM1083.4,1250.9h3.3V1310.0h-3.3zM1086.2,1286.5h3.3V1310.0h-3.3zM1089.0,1282.7h3.3V1310.0h-3.3zM1091.9,1300.1h3.3V1310.0h-3.3zM1094.7,1288.5h3.3V1310.0h-3.3zM1097.5,1298.0h3.3V1310.0h-3.3zM1100.4,1285.5h3.3V1310.0h-3.3zM1103.2,1291.9h3.3V1310.0h-3.3zM1106.0,1292.2h3.3V1310.0h-3.3zM1108.9,1279.2h3.3V1310.0h-3.3zM1111.7,1294.2h3.3V1310.0h-3.3zM1114.5,1293.0h3.3V1310.0h-3.3zM1117.4,1263.4h3.3V1310.0h-3.3zM1120.2,1305.3h3.3V1310.0h-3.3zM1123.1,1276.1h3.3V1310.0h-3.3zM1125.9,1293.8h3.3V1310.0h-3.3zM1128.7,1262.3h3.3V1310.0h-3.3zM1131.6,1288.0h3.3V1310.0h-3.3zM1134.4,1283.0h3.3V1310.0h-3.3zM1137.2,1279.7h3.3V1310.0h-3.3zM1140.1,1302.2h3.3V1310.0h-3.3zM1142.9,1293.6h3.3V1310.0h-3.3zM1145.7,1291.6h3.3V1310.0h-3.3zM1148.6,1294.7h3.3V1310.0h-3.3zM1151.4,1292.7h3.3V1310.0h-3.3zM1154.2,1298.3h3.3V1310.0h-3.3zM1157.1,1271.8h3.3V1310.0h-3.3zM1159.9,1266.0h3.3V1310.0h-3.3zM1162.7,1244.7h3.3V1310.0h-3.3zM1165.6,1292.0h3.3V1310.0h-3.3zM1168.4,1286.9h3.3V1310.0h-3.3zM1171.2,1301.7h3.3V1310.0h-3.3zM1174.1,1280.4h3.3V1310.0h-3.3zM1176.9,1281.9h3.3V1310.0h-3.3zM1179.8,1298.6h3.3V1310.0h-3.3zM1182.6,1300.6h3.3V1310.0h-3.3zM1185.4,1288.5h3.3V1310.0h-3.3zM1188.3,1294.6h3.3V1310.0h-3.3zM1191.1,1292.2h3.3V1310.0h-3.3zM1193.9,1283.3h3.3V1310.0h-3.3zM1196.8,1295.4h3.3V1310.0h-3.3zM1199.6,1291.6h3.3V1310.0h-3.3zM1202.4,1308.2h3.3V1310.0h-3.3zM1205.3,1277.1h3.3V1310.0h-3.3zM1208.1,1277.5h3.3V1310.0h-3.3zM1210.9,1285.0h3.3V1310.0h-3.3zM1213.8,1299.2h3.3V1310.0h-3.3zM1216.6,1209.0h3.3V1310.0h-3.3zM1219.4,1199.2h3.3V1310.0h-3.3zM1222.3,1282.9h3.3V1310.0h-3.3zM1225.1,1286.8h3.3V1310.0h-3.3zM1227.9,1260.1h3.3V1310.0h-3.3zM1230.8,1256.9h3.3V1310.0h-3.3zM1233.6,1296.2h3.3V1310.0h-3.3zM1236.5,1238.9h3.3V1310.0h-3.3zM1239.3,1257.8h3.3V1310.0h-3.3zM1242.1,1277.4h3.3V1310.0h-3.3zM1245.0,1304.4h3.3V1310.0h-3.3zM1247.8,1277.8h3.3V1310.0h-3.3zM1250.6,1278.2h3.3V1310.0h-3.3zM1253.5,1294.8h3.3V1310.0h-3.3zM1256.3,1281.4h3.3V1310.0h-3.3zM1259.1,1301.3h3.3V1310.0h-3.3zM1262.0,1302.2h3.3V1310.0h-3.3zM1264.8,1290.3h3.3V1310.0h-3.3zM1267.6,1289.4h3.3V1310.0h-3.3zM1270.5,1261.5h3.3V1310.0h-3.3zM1273.3,1297.7h3.3V1310.0h-3.3zM1276.1,1272.8h3.3V1310.0h-3.3zM1279.0,1305.6h3.3V1310.0h-3.3zM1281.8,1285.9h3.3V1310.0h-3.3zM1284.6,1304.2h3.3V1310.0h-3.3zM1287.5,1288.4h3.3V1310.0h-3.3zM1290.3,1241.6h3.3V1310.0h-3.3zM1293.2,1278.4h3.3V1310.0h-3.3zM1296.0,1255.5h3.3V1310.0h-3.3zM1298.8,1293.7h3.3V1310.0h-3.3zM1301.7,1297.5h3.3V1310.0h-3.3zM1304.5,1285.8h3.3V1310.0h-3.3zM1307.3,1287.2h3.3V1310.0h-3.3zM1310.2,1288.0h3.3V1310.0h-3.3zM1313.0,1294.0h3.3V1310.0h-3.3zM1315.8,1301.7h3.3V1310.0h-3.3zM1318.7,1290.7h3.3V1310.0h-3.3zM1321.5,1279.1h3.3V1310.0h-3.3zM1324.3,1274.0h3.3V1310.0h-3.3zM1327.2,1289.1h3.3V1310.0h-3.3zM1330.0,1295.2h3.3V1310.0h-3.3zM1332.8,1291.9h3.3V1310.0h-3.3zM1335.7,1291.8h3.3V1310.0h-3.3zM1338.5,1282.7h3.3V1310.0h-3.3zM1341.3,1294.4h3.3V1310.0h-3.3zM1344.2,1281.6h3.3V1310.0h-3.3zM1347.0,1275.7h3.3V1310.0h-3.3zM1349.9,1256.2h3.3V1310.0h-3.3zM1352.7,1267.3h3.3V1310.0h-3.3zM1355.5,1295.3h3.3V1310.0h-3.3zM1358.4,1269.2h3.3V1310.0h-3.3zM1361.2,1296.1h3.3V1310.0h-3.3zM1364.0,1283.7h3.3V1310.0h-3.3zM1366.9,1299.1h3.3V1310.0h-3.3zM1369.7,1304.5h3.3V1310.0h-3.3zM1372.5,1257.1h3.3V1310.0h-3.3zM1375.4,1268.1h3.3V1310.0h-3.3zM1378.2,1274.7h3.3V1310.0h-3.3zM1381.0,1293.9h3.3V1310.0h-3.3zM1383.9,1296.3h3.3V1310.0h-3.3zM1386.7,1230.1h3.3V1310.0h-3.3zM1389.5,1301.9h3.3V1310.0h-3.3zM1392.4,1255.8h3.3V1310.0h-3.3zM1395.2,1303.0h3.3V1310.0h-3.3zM1398.0,1286.2h3.3V1310.0h-3.3zM1400.9,1278.1h3.3V1310.0h-3.3zM1403.7,1285.8h3.3V1310.0h-3.3zM1406.6,1250.2h3.3V1310.0h-3.3zM1409.4,1298.4h3.3V1310.0h-3.3zM1412.2,1274.6h3.3V1310.0h-3.3zM1415.1,1209.6h3.3V1310.0h-3.3zM1417.9,1240.7h3.3V1310.0h-3.3zM1420.7,1302.0h3.3V1310.0h-3.3zM1423.6,1273.2h3.3V1310.0h-3.3zM1426.4,1301.2h3.3V1310.0h-3.3zM1429.2,1277.1h3.3V1310.0h-3.3zM1432.1,1255.2h3.3V1310.0h-3.3zM1434.9,1280.0h3.3V1310.0h-3.3zM1437.7,1247.8h3.3V1310.0h-3.3zM1440.6,1277.0h3.3V1310.0h-3.3zM1443.4,1256.3h3.3V1310.0h-3.3zM1446.2,1288.8h3.3V1310.0h-3.3zM1449.1,1297.0h3.3V1310.0h-3.3zM1451.9,1293.4h3.3V1310.0h-3.3zM1454.7,1301.1h3.3V1310.0h-3.3zM1457.6,1271.0h3.3V1310.0h-3.3zM1460.4,1298.7h3.3V1310.0h-3.3zM1463.3,1254.9h3.3V1310.0h-3.3zM1466.1,1297.9h3.3V1310.0h-3.3zM1468.9,1301.8h3.3V1310.0h-3.3zM1471.8,1290.1h3.3V1310.0h-3.3zM1474.6,1301.2h3.3V1310.0h-3.3zM1477.4,1288.3h3.3V1310.0h-3.3zM1480.3,1300.9h3.3V1310.0h-3.3zM1483.1,1287.1h3.3V1310.0h-3.3zM1485.9,1289.2h3.3V1310.0h-3.3zM1488.8,1295.3h3.3V1310.0h-3.3zM1491.6,1277.6h3.3V1310.0h-3.3zM1494.4,1258.7h3.3V1310.0h-3.3zM1497.3,1298.8h3.3V1310.0h-3.3zM1500.1,1290.2h3.3V1310.0h-3.3zM1502.9,1294.2h3.3V1310.0h-3.3zM1505.8,1304.3h3.3V1310.0h-3.3zM1508.6,1302.0h3.3V1310.0h-3.3zM1511.4,1299.1h3.3V1310.0h-3.3zM1514.3,1305.5h3.3V1310.0h-3.3zM1517.1,1295.3h3.3V1310.0h-3.3zM1520.0,1298.1h3.3V1310.0h-3.3zM1522.8,1301.6h3.3V1310.0h-3.3zM1525.6,1279.0h3.3V1310.0h-3.3zM1528.5,1299.1h3.3V1310.0h-3.3zM1531.3,1303.2h3.3V1310.0h-3.3zM1534.1,1293.0h3.3V1310.0h-3.3zM1537.0,1300.0h3.3V1310.0h-3.3zM1539.8,1292.7h3.3V1310.0h-3.3zM1542.6,1280.4h3.3V1310.0h-3.3zM1545.5,1307.1h3.3V1310.0h-3.3zM1548.3,1305.0h3.3V1310.0h-3.3zM1551.1,1262.9h3.3V1310.0h-3.3zM1554.0,1277.3h3.3V1310.0h-3.3zM1556.8,1302.0h3.3V1310.0h-3.3zM1559.6,1294.2h3.3V1310.0h-3.3zM1562.5,1270.1h3.3V1310.0h-3.3zM1565.3,1283.7h3.3V1310.0h-3.3zM1568.1,1273.1h3.3V1310.0h-3.3zM1571.0,1256.6h3.3V1310.0h-3.3zM1573.8,1242.3h3.3V1310.0h-3.3zM1576.7,1284.5h3.3V1310.0h-3.3zM1579.5,1248.0h3.3V1310.0h-3.3zM1582.3,1232.1h3.3V1310.0h-3.3zM1585.2,1285.3h3.3V1310.0h-3.3zM1588.0,1278.3h3.3V1310.0h-3.3zM1590.8,1280.1h3.3V1310.0h-3.3zM1593.7,1253.1h3.3V1310.0h-3.3zM1596.5,1236.3h3.3V1310.0h-3.3zM1599.3,1247.4h3.3V1310.0h-3.3zM1602.2,1186.3h3.3V1310.0h-3.3zM1605.0,1255.6h3.3V1310.0h-3.3zM1607.8,1281.6h3.3V1310.0h-3.3zM1610.7,1260.5h3.3V1310.0h-3.3zM1613.5,1287.8h3.3V1310.0h-3.3zM1616.3,1299.2h3.3V1310.0h-3.3zM1619.2,1279.9h3.3V1310.0h-3.3zM1622.0,1289.6h3.3V1310.0h-3.3zM1624.8,1278.5h3.3V1310.0h-3.3zM1627.7,1254.4h3.3V1310.0h-3.3zM1630.5,1292.7h3.3V1310.0h-3.3zM1633.4,1193.1h3.3V1310.0h-3.3zM1636.2,1304.0h3.3V1310.0h-3.3zM1639.0,1278.1h3.3V1310.0h-3.3zM1641.9,1292.4h3.3V1310.0h-3.3zM1644.7,1282.0h3.3V1310.0h-3.3zM1647.5,1283.7h3.3V1310.0h-3.3zM1650.4,1296.6h3.3V1310.0h-3.3zM1653.2,1261.3h3.3V1310.0h-3.3zM1656.0,1245.1h3.3V1310.0h-3.3zM1658.9,1291.4h3.3V1310.0h-3.3zM1661.7,1288.9h3.3V1310.0h-3.3zM1664.5,1281.6h3.3V1310.0h-3.3zM1667.4,1274.6h3.3V1310.0h-3.3zM1670.2,1207.5h3.3V1310.0h-3.3zM1673.0,1282.5h3.3V1310.0h-3.3zM1675.9,1214.8h3.3V1310.0h-3.3zM1678.7,1285.2h3.3V1310.0h-3.3zM1681.5,1249.5h3.3V1310.0h-3.3zM1684.4,1292.2h3.3V1310.0h-3.3zM1687.2,1279.5h3.3V1310.0h-3.3zM1690.1,1252.3h3.3V1310.0h-3.3zM1692.9,1292.4h3.3V1310.0h-3.3zM1695.7,1282.1h3.3V1310.0h-3.3zM1698.6,1255.2h3.3V1310.0h-3.3zM1701.4,1257.1h3.3V1310.0h-3.3zM1704.2,1157.4h3.3V1310.0h-3.3zM1707.1,1229.3h3.3V1310.0h-3.3zM1709.9,1245.4h3.3V1310.0h-3.3zM1712.7,1285.4h3.3V1310.0h-3.3zM1715.6,1229.5h3.3V1310.0h-3.3zM1718.4,1306.3h3.3V1310.0h-3.3zM1721.2,1303.7h3.3V1310.0h-3.3zM1724.1,1268.2h3.3V1310.0h-3.3zM1726.9,1264.7h3.3V1310.0h-3.3zM1729.7,1279.7h3.3V1310.0h-3.3zM1732.6,1254.1h3.3V1310.0h-3.3zM1735.4,1268.1h3.3V1310.0h-3.3zM1738.2,1274.6h3.3V1310.0h-3.3zM1741.1,1279.5h3.3V1310.0h-3.3zM1743.9,1294.9h3.3V1310.0h-3.3zM1746.8,1257.8h3.3V1310.0h-3.3zM1749.6,1219.9h3.3V1310.0h-3.3zM1752.4,1262.2h3.3V1310.0h-3.3zM1755.3,1259.7h3.3V1310.0h-3.3zM1758.1,1276.6h3.3V1310.0h-3.3zM1760.9,1265.1h3.3V1310.0h-3.3zM1763.8,1180.4h3.3V1310.0h-3.3zM1766.6,1237.5h3.3V1310.0h-3.3zM1769.4,1264.4h3.3V1310.0h-3.3zM1772.3,1253.7h3.3V1310.0h-3.3zM1775.1,1219.7h3.3V1310.0h-3.3zM1777.9,1268.7h3.3V1310.0h-3.3zM1780.8,1216.7h3.3V1310.0h-3.3zM1783.6,1215.4h3.3V1310.0h-3.3zM1786.4,1238.5h3.3V1310.0h-3.3zM1789.3,1215.6h3.3V1310.0h-3.3zM1792.1,1202.9h3.3V1310.0h-3.3zM1794.9,1226.5h3.3V1310.0h-3.3zM1797.8,1199.6h3.3V1310.0h-3.3zM1800.6,1191.1h3.3V1310.0h-3.3zM1803.5,1195.6h3.3V1310.0h-3.3zM1806.3,1269.2h3.3V1310.0h-3.3zM1809.1,1283.5h3.3V1310.0h-3.3zM1812.0,1190.3h3.3V1310.0h-3.3zM1814.8,1292.7h3.3V1310.0h-3.3zM1817.6,1244.4h3.3V1310.0h-3.3zM1820.5,1277.5h3.3V1310.0h-3.3zM1823.3,1291.4h3.3V1310.0h-3.3zM1826.1,1168.6h3.3V1310.0h-3.3zM1829.0,1238.0h3.3V1310.0h-3.3zM1831.8,1215.3h3.3V1310.0h-3.3zM1834.6,1224.0h3.3V1310.0h-3.3zM1837.5,1219.1h3.3V1310.0h-3.3zM1840.3,1283.6h3.3V1310.0h-3.3zM1843.1,1281.1h3.3V1310.0h-3.3zM1846.0,1255.0h3.3V1310.0h-3.3zM1848.8,1264.7h3.3V1310.0h-3.3zM1851.6,1300.6h3.3V1310.0h-3.3zM1854.5,1239.9h3.3V1310.0h-3.3zM1857.3,1272.3h3.3V1310.0h-3.3zM1860.2,1265.7h3.3V1310.0h-3.3zM1863.0,1253.2h3.3V1310.0h-3.3zM1865.8,1281.8h3.3V1310.0h-3.3zM1868.7,1286.7h3.3V1310.0h-3.3zM1871.5,1298.7h3.3V1310.0h-3.3zM1874.3,1299.5h3.3V1310.0h-3.3zM1877.2,1284.5h3.3V1310.0h-3.3zM1880.0,1274.5h3.3V1310.0h-3.3zM1882.8,1299.9h3.3V1310.0h-3.3zM1885.7,1256.9h3.3V1310.0h-3.3zM1888.5,1302.4h3.3V1310.0h-3.3zM1891.3,1281.5h3.3V1310.0h-3.3zM1894.2,1260.1h3.3V1310.0h-3.3zM1897.0,1284.7h3.3V1310.0h-3.3zM1899.8,1289.1h3.3V1310.0h-3.3zM1902.7,1285.3h3.3V1310.0h-3.3zM1905.5,1228.1h3.3V1310.0h-3.3zM1908.3,1229.6h3.3V1310.0h-3.3zM1911.2,1273.2h3.3V1310.0h-3.3zM1914.0,1275.2h3.3V1310.0h-3.3zM1916.9,1274.2h3.3V1310.0h-3.3zM1919.7,1263.8h3.3V1310.0h-3.3zM1922.5,1264.6h3.3V1310.0h-3.3zM1925.4,1244.6h3.3V1310.0h-3.3zM1928.2,1254.2h3.3V1310.0h-3.3zM1931.0,1289.4h3.3V1310.0h-3.3zM1933.9,1292.0h3.3V1310.0h-3.3zM1936.7,1228.3h3.3V1310.0h-3.3zM1939.5,1265.8h3.3V1310.0h-3.3zM1942.4,1293.1h3.3V1310.0h-3.3zM1945.2,1233.4h3.3V1310.0h-3.3zM1948.0,1228.1h3.3V1310.0h-3.3zM1950.9,1234.9h3.3V1310.0h-3.3zM1953.7,1284.1h3.3V1310.0h-3.3zM1956.5,1268.3h3.3V1310.0h-3.3zM1959.4,1283.6h3.3V1310.0h-3.3zM1962.2,1275.2h3.3V1310.0h-3.3zM1965.0,1194.4h3.3V1310.0h-3.3zM1967.9,1229.4h3.3V1310.0h-3.3zM1970.7,1233.0h3.3V1310.0h-3.3zM1973.6,1221.9h3.3V1310.0h-3.3zM1976.4,1285.0h3.3V1310.0h-3.3zM1979.2,1278.0h3.3V1310.0h-3.3zM1982.1,1279.5h3.3V1310.0h-3.3zM1984.9,1215.7h3.3V1310.0h-3.3zM1987.7,1242.8h3.3V1310.0h-3.3zM1990.6,1290.9h3.3V1310.0h-3.3zM1993.4,1257.8h3.3V1310.0h-3.3zM1996.2,1226.3h3.3V1310.0h-3.3zM1999.1,1199.7h3.3V1310.0h-3.3zM2001.9,1271.8h3.3V1310.0h-3.3zM2004.7,1275.6h3.3V1310.0h-3.3zM2007.6,1263.0h3.3V1310.0h-3.3zM2010.4,1239.2h3.3V1310.0h-3.3zM2013.2,1248.7h3.3V1310.0h-3.3zM2016.1,1193.8h3.3V1310.0h-3.3zM2018.9,1234.4h3.3V1310.0h-3.3zM2021.7,1224.8h3.3V1310.0h-3.3zM2024.6,1224.9h3.3V1310.0h-3.3zM2027.4,1291.5h3.3V1310.0h-3.3zM2030.3,1239.7h3.3V1310.0h-3.3zM2033.1,1296.1h3.3V1310.0h-3.3zM2035.9,1278.4h3.3V1310.0h-3.3zM2038.8,1278.7h3.3V1310.0h-3.3zM2041.6,1241.8h3.3V1310.0h-3.3zM2044.4,1292.3h3.3V1310.0h-3.3zM2047.3,1302.9h3.3V1310.0h-3.3zM2050.1,1204.9h3.3V1310.0h-3.3zM2052.9,1262.1h3.3V1310.0h-3.3zM2055.8,1253.2h3.3V1310.0h-3.3zM2058.6,1243.1h3.3V1310.0h-3.3zM2061.4,1298.8h3.3V1310.0h-3.3zM2064.3,1246.6h3.3V1310.0h-3.3zM2067.1,1222.3h3.3V1310.0h-3.3zM2069.9,1225.8h3.3V1310.0h-3.3zM2072.8,1237.1h3.3V1310.0h-3.3zM2075.6,1233.0h3.3V1310.0h-3.3zM2078.4,1249.5h3.3V1310.0h-3.3zM2081.3,1262.9h3.3V1310.0h-3.3zM2084.1,1278.9h3.3V1310.0h-3.3zM2087.0,1271.9h3.3V1310.0h-3.3zM2089.8,1227.7h3.3V1310.0h-3.3zM2092.6,1211.6h3.3V1310.0h-3.3zM2095.5,1254.6h3.3V1310.0h-3.3zM2098.3,1236.7h3.3V1310.0h-3.3zM2101.1,1246.2h3.3V1310.0h-3.3zM2104.0,1260.3h3.3V1310.0h-3.3zM2106.8,1292.2h3.3V1310.0h-3.3zM2109.6,1168.7h3.3V1310.0h-3.3zM2112.5,1240.8h3.3V1310.0h-3.3zM2115.3,1275.9h3.3V1310.0h-3.3zM2118.1,1278.8h3.3V1310.0h-3.3zM2121.0,1264.0h3.3V1310.0h-3.3zM2123.8,1246.4h3.3V1310.0h-3.3zM2126.6,1175.4h3.3V1310.0h-3.3zM2129.5,1220.6h3.3V1310.0h-3.3zM2132.3,1249.8h3.3V1310.0h-3.3zM2135.1,1281.8h3.3V1310.0h-3.3zM2138.0,1254.5h3.3V1310.0h-3.3zM2140.8,1198.4h3.3V1310.0h-3.3zM2143.7,1226.1h3.3V1310.0h-3.3zM2146.5,1263.3h3.3V1310.0h-3.3zM2149.3,1267.1h3.3V1310.0h-3.3zM2152.2,1287.6h3.3V1310.0h-3.3zM2155.0,1293.5h3.3V1310.0h-3.3zM2157.8,1215.5h3.3V1310.0h-3.3zM2160.7,1264.6h3.3V1310.0h-3.3zM2163.5,1285.8h3.3V1310.0h-3.3zM2166.3,1286.7h3.3V1310.0h-3.3zM2169.2,1269.6h3.3V1310.0h-3.3zM2172.0,1261.6h3.3V1310.0h-3.3zM2174.8,1231.5h3.3V1310.0h-3.3zM2177.7,1273.8h3.3V1310.0h-3.3zM2180.5,1278.9h3.3V1310.0h-3.3zM2183.3,1226.8h3.3V1310.0h-3.3zM2186.2,1259.4h3.3V1310.0h-3.3zM2189.0,1287.6h3.3V1310.0h-3.3zM2191.8,1302.7h3.3V1310.0h-3.3zM2194.7,1291.6h3.3V1310.0h-3.3zM2197.5,1270.4h3.3V1310.0h-3.3zM2200.4,1291.2h3.3V1310.0h-3.3zM2203.2,1287.7h3.3V1310.0h-3.3zM2206.0,1297.2h3.3V1310.0h-3.3zM2208.9,1290.2h3.3V1310.0h-3.3zM2211.7,1283.7h3.3V1310.0h-3.3zM2214.5,1267.1h3.3V1310.0h-3.3zM2217.4,1261.0h3.3V1310.0h-3.3zM2220.2,1230.6h3.3V1310.0h-3.3zM2223.0,1268.2h3.3V1310.0h-3.3zM2225.9,1304.2h3.3V1310.0h-3.3zM2228.7,1248.1h3.3V1310.0h-3.3zM2231.5,1287.9h3.3V1310.0h-3.3zM2234.4,1230.7h3.3V1310.0h-3.3zM2237.2,1264.1h3.3V1310.0h-3.3zM2240.0,1259.8h3.3V1310.0h-3.3zM2242.9,1278.2h3.3V1310.0h-3.3zM2245.7,1267.5h3.3V1310.0h-3.3zM2248.5,1278.2h3.3V1310.0h-3.3zM2251.4,1275.1h3.3V1310.0h-3.3zM2254.2,1306.0h3.3V1310.0h-3.3zM2257.1,1299.9h3.3V1310.0h-3.3zM2259.9,1302.8h3.3V1310.0h-3.3zM2262.7,1292.8h3.3V1310.0h-3.3zM2265.6,1274.6h3.3V1310.0h-3.3zM2268.4,1276.7h3.3V1310.0h-3.3zM2271.2,1293.7h3.3V1310.0h-3.3zM2274.1,1259.6h3.3V1310.0h-3.3zM2276.9,1289.0h3.3V1310.0h-3.3zM2279.7,1269.8h3.3V1310.0h-3.3zM2282.6,1291.5h3.3V1310.0h-3.3zM2285.4,1265.0h3.3V1310.0h-3.3zM2288.2,1275.0h3.3V1310.0h-3.3zM2291.1,1286.1h3.3V1310.0h-3.3zM2293.9,1271.4h3.3V1310.0h-3.3zM2296.7,1298.0h3.3V1310.0h-3.3zM2299.6,1303.0h3.3V1310.0h-3.3zM2302.4,1305.6h3.3V1310.0h-3.3zM2305.2,1267.8h3.3V1310.0h-3.3zM2308.1,1297.4h3.3V1310.0h-3.3zM2310.9,1299.2h3.3V1310.0h-3.3zM2313.8,1278.3h3.3V1310.0h-3.3zM2316.6,1301.3h3.3V1310.0h-3.3zM2319.4,1302.7h3.3V1310.0h-3.3zM2322.3,1259.2h3.3V1310.0h-3.3zM2325.1,1294.4h3.3V1310.0h-3.3zM2327.9,1285.6h3.3V1310.0h-3.3zM2330.8,1283.3h3.3V1310.0h-3.3zM2333.6,1293.7h3.3V1310.0h-3.3zM2336.4,1281.8h3.3V1310.0h-3.3zM2339.3,1306.7h3.2V1310.0h-3.2zM2342.1,1280.3h0.4V1310.0h-0.4z" fill="#e88b7d"/>
<rect x="375.8" y="1179" width="4" height="131" fill="#e8b877"/>
<rect x="1154.1" y="311.5" width="3.8" height="998.5" fill="#e8bb7c"/>
<rect x="1154.1" y="292" width="3.8" height="19.5" fill="#e08c7e"/>
<rect x="355" y="1309.6" width="1988" height="1.8" fill="#e8a96a"/>
<rect x="501.25" y="1313" width="1.5" height="14" fill="#37363d"/>
<text x="502" y="1360" text-anchor="middle" font-size="26.5" fill="#98979e">2023 Sep</text>
<rect x="674.25" y="1313" width="1.5" height="14" fill="#37363d"/>
<text x="675" y="1360" text-anchor="middle" font-size="26.5" fill="#98979e">2023 Nov</text>
<rect x="847.25" y="1313" width="1.5" height="14" fill="#37363d"/>
<text x="848" y="1360" text-anchor="middle" font-size="26.5" fill="#98979e">2024 Jan</text>
<rect x="1018.25" y="1313" width="1.5" height="14" fill="#37363d"/>
<text x="1019" y="1360" text-anchor="middle" font-size="26.5" fill="#98979e">2024 Mar</text>
<rect x="1191.25" y="1313" width="1.5" height="14" fill="#37363d"/>
<text x="1192" y="1360" text-anchor="middle" font-size="26.5" fill="#98979e">2024 May</text>
<rect x="1364.25" y="1313" width="1.5" height="14" fill="#37363d"/>
<text x="1365" y="1360" text-anchor="middle" font-size="26.5" fill="#98979e">2024 Jul</text>
<rect x="1540.25" y="1313" width="1.5" height="14" fill="#37363d"/>
<text x="1541" y="1360" text-anchor="middle" font-size="26.5" fill="#98979e">2024 Sep</text>
<rect x="1713.25" y="1313" width="1.5" height="14" fill="#37363d"/>
<text x="1714" y="1360" text-anchor="middle" font-size="26.5" fill="#98979e">2024 Nov</text>
<rect x="1887.25" y="1313" width="1.5" height="14" fill="#37363d"/>
<text x="1888" y="1360" text-anchor="middle" font-size="26.5" fill="#98979e">2025 Jan</text>
<rect x="2055.25" y="1313" width="1.5" height="14" fill="#37363d"/>
<text x="2056" y="1360" text-anchor="middle" font-size="26.5" fill="#98979e">2025 Mar</text>
<rect x="2228.75" y="1313" width="1.5" height="14" fill="#37363d"/>
<text x="2229.5" y="1360" text-anchor="middle" font-size="26.5" fill="#98979e">2025 May</text>
<text x="1348" y="1399" text-anchor="middle" font-size="26" fill="#98979e">Datetime</text>
<text x="2497" y="1403.5" text-anchor="end" font-size="22" fill="#8e8d94" textLength="320" lengthAdjust="spacingAndGlyphs">© CryptoQuant. All rights reserved</text>
<text x="186.5" y="331" text-anchor="end" font-size="32.5" fill="#f2f2f4">1B</text>
<text x="186.5" y="579" text-anchor="end" font-size="32.5" fill="#f2f2f4">750M</text>
<text x="186.5" y="827" text-anchor="end" font-size="32.5" fill="#f2f2f4">500M</text>
<text x="186.5" y="1075" text-anchor="end" font-size="32.5" fill="#f2f2f4">250M</text>
<text x="186.5" y="1321" text-anchor="end" font-size="32.5" fill="#f2f2f4">0</text>
<text x="316.5" y="363" text-anchor="end" font-size="32.5" fill="#f2f2f4">8B</text>
<text x="316.5" y="603" text-anchor="end" font-size="32.5" fill="#f2f2f4">6B</text>
<text x="316.5" y="842" text-anchor="end" font-size="32.5" fill="#f2f2f4">4B</text>
<text x="316.5" y="1081" text-anchor="end" font-size="32.5" fill="#f2f2f4">2B</text>
<text x="316.5" y="1321" text-anchor="end" font-size="32.5" fill="#f2f2f4">0</text>
<text x="2380" y="430" font-size="32" fill="#f2f2f4">100K</text>
<text x="2380" y="653" font-size="32" fill="#f2f2f4">80K</text>
<text x="2380" y="876" font-size="32" fill="#f2f2f4">60K</text>
<text x="2380" y="1099" font-size="32" fill="#f2f2f4">40K</text>
<text x="2380" y="1321" font-size="32" fill="#f2f2f4">20K</text>
<text transform="translate(86,777) rotate(-90)" text-anchor="middle" font-size="30" fill="#f2f2f4" textLength="226" lengthAdjust="spacingAndGlyphs">Exchange Inflow</text>
<text transform="translate(261,777) rotate(-90)" text-anchor="middle" font-size="30" fill="#f2f2f4" textLength="484" lengthAdjust="spacingAndGlyphs">Exchange Whale Inflow (30D Sum)</text>
<text transform="translate(2473,777) rotate(90)" text-anchor="middle" font-size="30" fill="#f2f2f4" textLength="140" lengthAdjust="spacingAndGlyphs">Pirce USD</text>
<rect x="210" y="242" width="2.5" height="1069" fill="#4a4950"/>
<rect x="339.5" y="242" width="3" height="1069" fill="#7672f0"/>
<rect x="2354" y="242" width="3" height="1069" fill="#f0f0f2"/>
<g fill="none" stroke="#21c6ee" stroke-width="3.6" stroke-dasharray="13 8">
<path d="M1229,566 L1764,304"/><path d="M1884,317 L2027,402"/><path d="M2122,472 L2313,897"/></g>
<ellipse cx="1163.7" cy="587.5" rx="58.3" ry="49.6" fill="#00b4dc" fill-opacity="0.40" stroke="#21c6ee" stroke-width="3.7" stroke-dasharray="11 7.3"/>
<ellipse cx="1823.8" cy="303.8" rx="58.3" ry="49.6" fill="#00b4dc" fill-opacity="0.40" stroke="#21c6ee" stroke-width="3.7" stroke-dasharray="11 7.3"/>
<ellipse cx="2071.2" cy="433.8" rx="58.3" ry="49.6" fill="#00b4dc" fill-opacity="0.40" stroke="#21c6ee" stroke-width="3.7" stroke-dasharray="11 7.3"/>
<ellipse cx="2340.5" cy="944.6" rx="58.3" ry="49.6" fill="#00b4dc" fill-opacity="0.40" stroke="#21c6ee" stroke-width="3.7" stroke-dasharray="11 7.3"/>
<rect x="973" y="563" width="109" height="52" fill="#1a191e" fill-opacity="0.6" stroke="#22c2d0" stroke-width="1.6"/>
<text x="1027.5" y="602" text-anchor="middle" font-size="36" font-weight="bold" fill="#19eef2" textLength="99" lengthAdjust="spacingAndGlyphs">5,31B</text>
<rect x="1643" y="237" width="109" height="52" fill="#1a191e" fill-opacity="0.6" stroke="#22c2d0" stroke-width="1.6"/>
<text x="1697.5" y="276" text-anchor="middle" font-size="36" font-weight="bold" fill="#19eef2" textLength="99" lengthAdjust="spacingAndGlyphs">8,45B</text>
<rect x="2016.5" y="317" width="109" height="53" fill="#1a191e" fill-opacity="0.6" stroke="#22c2d0" stroke-width="1.6"/>
<text x="2071" y="356.5" text-anchor="middle" font-size="36" font-weight="bold" fill="#19eef2" textLength="99" lengthAdjust="spacingAndGlyphs">7,24B</text>
<rect x="2373" y="998" width="110" height="53" fill="#1a191e" fill-opacity="0.6" stroke="#22c2d0" stroke-width="1.6"/>
<text x="2428" y="1037.5" text-anchor="middle" font-size="36" font-weight="bold" fill="#19eef2" textLength="100" lengthAdjust="spacingAndGlyphs">2,99B</text>
<g transform="translate(2450.9,1423.3)" fill="#ececee"><path d="M0,-2.2L2.2,0L0,2.2L-2.2,0Z M-9,0L-7.1,-1.9L-5.2,0L-7.1,1.9Z M9,0L7.1,-1.9L5.2,0L7.1,1.9Z M0,-9L5.4,-3.6L3.6,-1.8L0,-5.4L-3.6,-1.8L-5.4,-3.6Z M0,9L5.4,3.6L3.6,1.8L0,5.4L-3.6,1.8L-5.4,3.6Z"/></g>
<text x="2463.7" y="1429" font-size="15.5" fill="#f4f4f6" stroke="#f4f4f6" stroke-width="0.5" textLength="91.3" lengthAdjust="spacingAndGlyphs">@CoinQuest</text>
</svg>
</body></html>
